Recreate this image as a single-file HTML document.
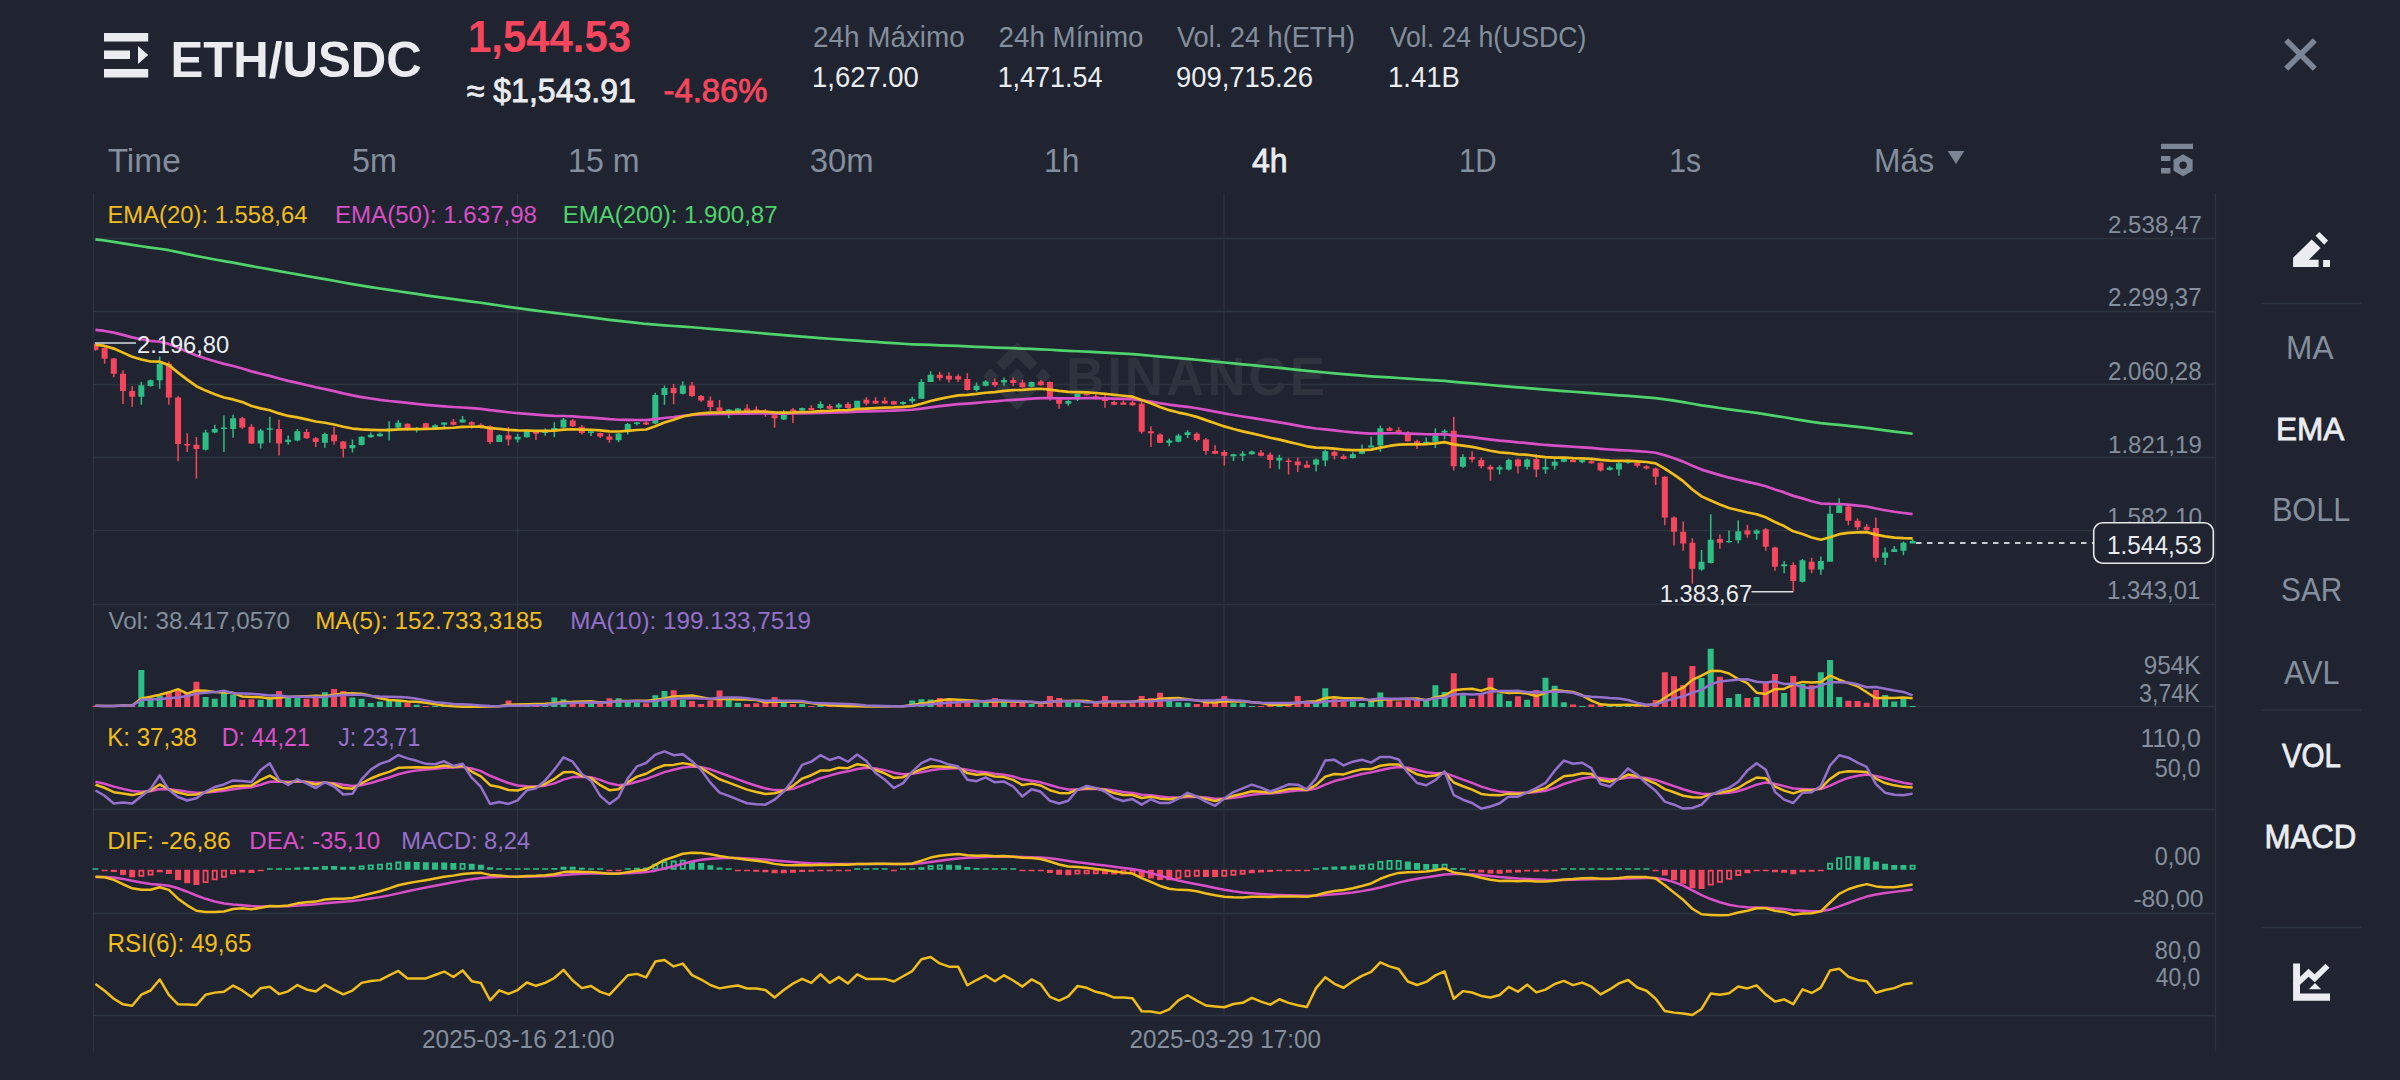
<!DOCTYPE html><html><head><meta charset="utf-8"><style>html,body{margin:0;padding:0;background:#1f2430;width:2400px;height:1080px;overflow:hidden}svg{display:block}text{font-family:"Liberation Sans",sans-serif}</style></head><body>
<svg width="2400" height="1080" viewBox="0 0 2400 1080">
<defs><clipPath id="cl"><rect x="94" y="193" width="2121" height="860"/></clipPath></defs><rect width="2400" height="1080" fill="#1f2430"/>
<g transform="translate(983 342) scale(0.537)" fill="#2e333e"><path d="M38.73,53.2l24.59-24.58,24.6,24.6,14.3-14.31L63.32,0,24.42,38.9Z M0,63.31,14.3,49l14.31,14.31L14.3,77.61Z M38.73,73.41,63.32,98l24.6-24.6,14.31,14.29L63.32,126.61,24.42,87.71Z M98,63.31l14.3-14.31,14.31,14.3-14.31,14.32Z M77.83,63.3L63.32,48.78,48.82,63.28,63.32,77.79Z"/></g>
<text x="1066" y="395" font-size="53" font-weight="bold" fill="#2e333e" textLength="259" lengthAdjust="spacing">BINANCE</text>
<path d="M93.5 238.5H2215.5M93.5 311.5H2215.5M93.5 384.5H2215.5M93.5 457.5H2215.5M93.5 530.5H2215.5M93.5 604.5H2215.5M93.5 706.5H2215.5M93.5 809.5H2215.5M93.5 913.5H2215.5M93.5 1015.5H2215.5M93.5 193V1051.5M2215.5 193V1051.5M517.5 193V1016M1224 193V1016" stroke="#2e3340" stroke-width="1.3" fill="none"/>
<g clip-path="url(#cl)"><path d="M92.45 343.63H98.45V350.09H92.45ZM94.70 343.63H96.20V350.81H94.70ZM101.63 347.94H107.63V358.70H101.63ZM103.88 347.22H105.38V363.73H103.88ZM110.81 358.42H116.81V373.77H110.81ZM113.06 357.99H114.56V377.36H113.06ZM119.98 373.77H125.98V390.99H119.98ZM122.23 370.18H123.73V403.91H122.23ZM129.16 390.99H135.16V396.73H129.16ZM131.41 385.97H132.91V406.78H131.41ZM165.87 363.73H171.87V397.45H165.87ZM168.12 361.57H169.62V404.63H168.12ZM175.05 397.45H181.05V444.09H175.05ZM177.30 396.02H178.80V461.31H177.30ZM184.23 444.09H190.23V445.53H184.23ZM186.48 433.33H187.98V451.99H186.48ZM193.40 444.81H199.40V449.12H193.40ZM195.65 436.92H197.15V478.54H195.65ZM239.29 418.26H245.29V427.59H239.29ZM241.54 416.83H243.04V429.02H241.54ZM248.47 426.87H254.47V443.38H248.47ZM250.72 424.00H252.22V444.09H250.72ZM276.00 429.02H282.00V443.38H276.00ZM278.25 419.70H279.75V455.57H278.25ZM303.54 431.89H309.54V438.35H303.54ZM305.79 429.02H307.29V439.07H305.79ZM312.71 438.35H318.71V441.94H312.71ZM314.96 436.92H316.46V446.96H314.96ZM331.07 434.76H337.07V441.22H331.07ZM333.32 426.87H334.82V444.81H333.32ZM340.25 441.46H346.25V448.75H340.25ZM342.50 440.94H344.00V457.60H342.50ZM404.49 423.75H410.49V427.92H404.49ZM406.74 423.23H408.24V431.04H406.74ZM422.84 423.23H428.84V427.92H422.84ZM425.09 422.71H426.59V428.96H425.09ZM450.38 421.67H456.38V424.79H450.38ZM452.63 419.06H454.13V425.31H452.63ZM468.73 422.19H474.73V424.79H468.73ZM470.98 421.15H472.48V428.44H470.98ZM477.91 424.79H483.91V425.99H477.91ZM480.16 423.23H481.66V428.44H480.16ZM487.09 426.35H493.09V441.98H487.09ZM489.34 425.31H490.84V444.06H489.34ZM505.44 435.21H511.44V439.38H505.44ZM507.69 426.88H509.19V445.62H507.69ZM532.98 432.08H538.98V433.65H532.98ZM535.23 431.56H536.73V439.90H535.23ZM569.69 420.62H575.69V426.35H569.69ZM571.94 419.06H573.44V426.88H571.94ZM578.86 426.67H584.86V432.92H578.86ZM581.11 425.10H582.61V434.48H581.11ZM597.22 432.92H603.22V436.56H597.22ZM599.47 432.40H600.97V438.12H599.47ZM606.40 436.56H612.40V439.69H606.40ZM608.65 433.44H610.15V442.81H608.65ZM643.11 422.50H649.11V424.58H643.11ZM645.36 421.46H646.86V425.10H645.36ZM670.64 388.12H676.64V393.33H670.64ZM672.89 383.96H674.39V404.27H672.89ZM689.00 385.52H695.00V395.94H689.00ZM691.25 381.88H692.75V396.98H691.25ZM698.17 395.94H704.17V400.62H698.17ZM700.42 394.90H701.92V401.67H700.42ZM707.35 400.62H713.35V406.88H707.35ZM709.60 396.46H711.10V411.04H709.60ZM716.53 407.40H722.53V411.04H716.53ZM718.78 400.10H720.28V411.56H718.78ZM744.06 408.44H750.06V411.04H744.06ZM746.31 404.27H747.81V411.56H746.31ZM753.24 409.48H759.24V411.04H753.24ZM755.49 406.35H756.99V411.56H755.49ZM762.42 410.52H768.42V412.08H762.42ZM764.67 408.96H766.17V416.77H764.67ZM771.59 415.21H777.59V418.33H771.59ZM773.84 414.17H775.34V427.71H773.84ZM789.95 409.48H795.95V411.04H789.95ZM792.20 407.92H793.70V423.02H792.20ZM808.30 407.92H814.30V410.00H808.30ZM810.55 405.31H812.05V410.52H810.55ZM826.66 406.04H832.66V408.65H826.66ZM828.91 403.96H830.41V409.17H828.91ZM845.02 403.96H851.02V408.12H845.02ZM847.27 401.88H848.77V408.65H847.27ZM863.37 399.79H869.37V403.44H863.37ZM865.62 397.19H867.12V405.52H865.62ZM872.55 400.83H878.55V403.44H872.55ZM874.80 397.19H876.30V403.96H874.80ZM881.73 400.83H887.73V403.44H881.73ZM883.98 397.19H885.48V403.96H883.98ZM890.90 401.35H896.90V404.48H890.90ZM893.15 400.83H894.65V405.00H893.15ZM936.79 374.79H942.79V377.92H936.79ZM939.04 371.67H940.54V380.52H939.04ZM945.97 375.83H951.97V379.48H945.97ZM948.22 372.19H949.72V382.60H948.22ZM955.15 376.35H961.15V379.48H955.15ZM957.40 374.27H958.90V382.08H957.40ZM964.32 378.96H970.32V389.90H964.32ZM966.57 373.23H968.07V390.42H966.57ZM991.86 382.08H997.86V385.21H991.86ZM994.11 378.44H995.61V387.29H994.11ZM1010.21 380.00H1016.21V383.12H1010.21ZM1012.46 377.40H1013.96V386.25H1012.46ZM1019.39 382.60H1025.39V387.29H1019.39ZM1021.64 379.48H1023.14V387.81H1021.64ZM1037.75 381.56H1043.75V385.21H1037.75ZM1040.00 380.00H1041.50V385.73H1040.00ZM1046.92 382.08H1052.92V397.71H1046.92ZM1049.17 381.56H1050.67V400.83H1049.17ZM1056.10 399.48H1062.10V403.65H1056.10ZM1058.35 396.88H1059.85V408.85H1058.35ZM1083.63 393.75H1089.63V395.31H1083.63ZM1085.88 392.71H1087.38V395.83H1085.88ZM1092.81 396.35H1098.81V398.96H1092.81ZM1095.06 394.27H1096.56V399.48H1095.06ZM1101.99 398.44H1107.99V401.04H1101.99ZM1104.24 395.31H1105.74V407.81H1104.24ZM1111.17 402.08H1117.17V404.69H1111.17ZM1113.42 400.52H1114.92V405.21H1113.42ZM1120.34 402.60H1126.34V404.69H1120.34ZM1122.59 400.52H1124.09V404.69H1122.59ZM1129.52 402.60H1135.52V405.21H1129.52ZM1131.77 400.52H1133.27V405.73H1131.77ZM1138.70 403.65H1144.70V431.77H1138.70ZM1140.95 402.08H1142.45V433.85H1140.95ZM1147.88 431.25H1153.88V433.33H1147.88ZM1150.13 426.56H1151.63V446.88H1150.13ZM1157.05 434.38H1163.05V442.71H1157.05ZM1159.30 433.33H1160.80V443.23H1159.30ZM1193.77 433.85H1199.77V440.10H1193.77ZM1196.02 432.29H1197.52V441.67H1196.02ZM1202.94 439.58H1208.94V451.04H1202.94ZM1205.19 438.02H1206.69V454.69H1205.19ZM1212.12 451.04H1218.12V453.65H1212.12ZM1214.37 445.31H1215.87V454.17H1214.37ZM1221.30 452.08H1227.30V455.73H1221.30ZM1223.55 450.00H1225.05V465.62H1223.55ZM1258.01 452.60H1264.01V455.73H1258.01ZM1260.26 450.00H1261.76V456.25H1260.26ZM1267.19 454.69H1273.19V459.90H1267.19ZM1269.44 452.60H1270.94V468.23H1269.44ZM1285.54 460.42H1291.54V461.98H1285.54ZM1287.79 458.33H1289.29V474.48H1287.79ZM1294.72 461.56H1300.72V465.21H1294.72ZM1296.97 457.40H1298.47V471.98H1296.97ZM1303.90 464.69H1309.90V467.81H1303.90ZM1306.15 460.52H1307.65V467.81H1306.15ZM1331.43 451.67H1337.43V455.83H1331.43ZM1333.68 450.62H1335.18V459.48H1333.68ZM1340.61 456.35H1346.61V458.96H1340.61ZM1342.86 454.27H1344.36V459.48H1342.86ZM1386.50 428.23H1392.50V430.83H1386.50ZM1388.75 426.67H1390.25V431.35H1388.75ZM1395.67 430.31H1401.67V432.40H1395.67ZM1397.92 427.19H1399.42V434.48H1397.92ZM1404.85 432.40H1410.85V441.25H1404.85ZM1407.10 431.35H1408.60V441.77H1407.10ZM1414.03 441.25H1420.03V444.38H1414.03ZM1416.28 439.69H1417.78V449.06H1416.28ZM1450.74 430.83H1456.74V466.25H1450.74ZM1452.99 416.77H1454.49V470.42H1452.99ZM1469.09 456.88H1475.09V459.48H1469.09ZM1471.34 451.15H1472.84V462.60H1471.34ZM1478.27 460.00H1484.27V466.25H1478.27ZM1480.52 457.40H1482.02V468.33H1480.52ZM1487.45 466.77H1493.45V469.38H1487.45ZM1489.70 464.69H1491.20V480.83H1489.70ZM1514.98 459.48H1520.98V466.25H1514.98ZM1517.23 458.44H1518.73V473.54H1517.23ZM1533.34 458.96H1539.34V469.38H1533.34ZM1535.59 454.27H1537.09V477.19H1535.59ZM1570.05 460.10H1576.05V462.19H1570.05ZM1572.30 456.98H1573.80V462.19H1572.30ZM1588.40 461.15H1594.40V463.23H1588.40ZM1590.65 460.10H1592.15V463.75H1590.65ZM1597.58 462.71H1603.58V470.52H1597.58ZM1599.83 462.19H1601.33V471.56H1599.83ZM1634.29 462.71H1640.29V465.83H1634.29ZM1636.54 461.67H1638.04V467.40H1636.54ZM1643.47 466.35H1649.47V468.44H1643.47ZM1645.72 465.31H1647.22V469.48H1645.72ZM1652.65 468.44H1658.65V476.77H1652.65ZM1654.90 467.40H1656.40V485.10H1654.90ZM1661.82 476.76H1667.82V517.59H1661.82ZM1664.07 476.11H1665.57V525.37H1664.07ZM1671.00 517.59H1677.00V531.85H1671.00ZM1673.25 516.30H1674.75V545.47H1673.25ZM1680.18 531.85H1686.18V543.52H1680.18ZM1682.43 521.48H1683.93V550.65H1682.43ZM1689.36 542.87H1695.36V568.80H1689.36ZM1691.61 538.34H1693.11V583.71H1691.61ZM1716.89 538.98H1722.89V542.87H1716.89ZM1719.14 534.45H1720.64V548.71H1719.14ZM1744.42 530.56H1750.42V534.45H1744.42ZM1746.67 524.72H1748.17V537.69H1746.67ZM1762.78 529.26H1768.78V546.76H1762.78ZM1765.03 527.96H1766.53V550.65H1765.03ZM1771.96 547.41H1777.96V566.86H1771.96ZM1774.21 546.76H1775.71V570.74H1774.21ZM1790.31 564.91H1796.31V581.11H1790.31ZM1792.56 562.32H1794.06V592.13H1792.56ZM1808.67 561.67H1814.67V569.45H1808.67ZM1810.92 557.78H1812.42V573.34H1810.92ZM1845.38 506.58H1851.38V520.83H1845.38ZM1847.63 505.93H1849.13V525.37H1847.63ZM1854.55 520.83H1860.55V527.32H1854.55ZM1856.80 518.24H1858.30V529.91H1856.80ZM1863.73 526.67H1869.73V529.91H1863.73ZM1865.98 524.08H1867.48V530.56H1865.98ZM1872.91 527.96H1878.91V557.78H1872.91ZM1875.16 517.59H1876.66V561.67H1875.16Z" fill="#f6465d"/>
<path d="M138.34 385.25H144.34V396.73H138.34ZM140.59 381.66H142.09V404.63H140.59ZM147.52 380.23H153.52V385.97H147.52ZM149.77 379.51H151.27V386.69H149.77ZM156.69 363.73H162.69V380.23H156.69ZM158.94 356.55H160.44V388.84H158.94ZM202.58 432.61H208.58V449.83H202.58ZM204.83 429.74H206.33V450.55H204.83ZM211.76 429.02H217.76V432.61H211.76ZM214.01 424.72H215.51V433.33H214.01ZM220.94 427.59H226.94V429.02H220.94ZM223.19 415.39H224.69V451.99H223.19ZM230.11 418.26H236.11V429.02H230.11ZM232.36 414.67H233.86V437.63H232.36ZM257.65 430.46H263.65V443.38H257.65ZM259.90 429.02H261.40V448.40H259.90ZM266.82 428.31H272.82V429.74H266.82ZM269.07 416.83H270.57V442.66H269.07ZM285.18 439.79H291.18V441.94H285.18ZM287.43 435.48H288.93V444.81H287.43ZM294.36 431.18H300.36V440.51H294.36ZM296.61 429.02H298.11V441.22H296.61ZM321.89 434.05H327.89V442.66H321.89ZM324.14 432.61H325.64V447.68H324.14ZM349.42 445.10H355.42V448.23H349.42ZM351.67 439.38H353.17V452.40H351.67ZM358.60 436.77H364.60V445.10H358.60ZM360.85 436.25H362.35V445.62H360.85ZM367.78 434.69H373.78V437.29H367.78ZM370.03 432.60H371.53V437.81H370.03ZM376.96 433.65H382.96V436.25H376.96ZM379.21 432.60H380.71V436.77H379.21ZM386.13 428.44H392.13V431.04H386.13ZM388.38 421.15H389.88V440.42H388.38ZM395.31 422.71H401.31V427.40H395.31ZM397.56 420.10H399.06V427.92H397.56ZM413.67 427.92H419.67V429.48H413.67ZM415.92 426.88H417.42V432.60H415.92ZM432.02 425.31H438.02V427.92H432.02ZM434.27 424.27H435.77V428.44H434.27ZM441.20 422.50H447.20V424.79H441.20ZM443.45 422.19H444.95V427.92H443.45ZM459.56 419.58H465.56V422.50H459.56ZM461.81 415.94H463.31V422.71H461.81ZM496.27 435.21H502.27V441.98H496.27ZM498.52 434.17H500.02V441.98H498.52ZM514.62 436.77H520.62V439.38H514.62ZM516.87 433.65H518.37V442.50H516.87ZM523.80 431.04H529.80V437.29H523.80ZM526.05 429.48H527.55V437.81H526.05ZM542.15 431.56H548.15V433.12H542.15ZM544.40 428.44H545.90V435.73H544.40ZM551.33 427.92H557.33V430.00H551.33ZM553.58 422.19H555.08V437.29H553.58ZM560.51 419.58H566.51V427.40H560.51ZM562.76 418.02H564.26V427.92H562.76ZM588.04 431.35H594.04V432.92H588.04ZM590.29 430.83H591.79V436.04H590.29ZM615.57 433.44H621.57V440.21H615.57ZM617.82 432.92H619.32V442.29H617.82ZM624.75 424.06H630.75V431.88H624.75ZM627.00 423.02H628.50V434.48H627.00ZM633.93 422.50H639.93V424.06H633.93ZM636.18 421.98H637.68V425.62H636.18ZM652.29 394.90H658.29V423.54H652.29ZM654.54 392.81H656.04V424.06H654.54ZM661.46 388.12H667.46V394.90H661.46ZM663.71 385.52H665.21V404.79H663.71ZM679.82 385.52H685.82V393.85H679.82ZM682.07 381.35H683.57V394.38H682.07ZM725.71 409.48H731.71V411.56H725.71ZM727.96 408.96H729.46V418.33H727.96ZM734.88 408.44H740.88V411.04H734.88ZM737.13 407.92H738.63V411.56H737.13ZM780.77 414.69H786.77V419.38H780.77ZM783.02 410.00H784.52V419.90H783.02ZM799.13 407.92H805.13V410.52H799.13ZM801.38 407.40H802.88V411.04H801.38ZM817.48 403.96H823.48V408.12H817.48ZM819.73 401.35H821.23V408.65H819.73ZM835.84 404.48H841.84V407.60H835.84ZM838.09 402.92H839.59V408.65H838.09ZM854.19 400.83H860.19V408.12H854.19ZM856.44 400.83H857.94V408.12H856.44ZM900.08 401.88H906.08V403.96H900.08ZM902.33 401.35H903.83V405.00H902.33ZM909.26 398.75H915.26V401.35H909.26ZM911.51 396.67H913.01V403.44H911.51ZM918.44 382.08H924.44V398.75H918.44ZM920.69 378.96H922.19V398.75H920.69ZM927.61 374.79H933.61V382.08H927.61ZM929.86 371.15H931.36V382.08H929.86ZM973.50 385.73H979.50V389.90H973.50ZM975.75 382.60H977.25V391.46H975.75ZM982.68 381.56H988.68V385.73H982.68ZM984.93 380.00H986.43V386.25H984.93ZM1001.03 380.00H1007.03V382.60H1001.03ZM1003.28 377.40H1004.78V385.73H1003.28ZM1028.57 382.08H1034.57V386.77H1028.57ZM1030.82 381.56H1032.32V387.29H1030.82ZM1065.28 401.04H1071.28V403.65H1065.28ZM1067.53 400.00H1069.03V405.73H1067.53ZM1074.46 393.75H1080.46V399.48H1074.46ZM1076.71 393.23H1078.21V401.04H1076.71ZM1166.23 440.62H1172.23V442.71H1166.23ZM1168.48 438.54H1169.98V446.35H1168.48ZM1175.41 435.42H1181.41V441.67H1175.41ZM1177.66 433.85H1179.16V442.19H1177.66ZM1184.59 432.29H1190.59V434.90H1184.59ZM1186.84 430.21H1188.34V438.02H1186.84ZM1230.48 454.17H1236.48V456.25H1230.48ZM1232.73 453.65H1234.23V460.94H1232.73ZM1239.65 453.65H1245.65V455.73H1239.65ZM1241.90 451.04H1243.40V460.94H1241.90ZM1248.83 451.56H1254.83V454.17H1248.83ZM1251.08 450.52H1252.58V454.69H1251.08ZM1276.36 457.81H1282.36V460.42H1276.36ZM1278.61 454.69H1280.11V469.27H1278.61ZM1313.07 459.48H1319.07V464.69H1313.07ZM1315.32 458.44H1316.82V471.46H1315.32ZM1322.25 451.15H1328.25V460.52H1322.25ZM1324.50 449.58H1326.00V466.25H1324.50ZM1349.78 454.27H1355.78V457.92H1349.78ZM1352.03 452.19H1353.53V458.44H1352.03ZM1358.96 449.58H1364.96V453.75H1358.96ZM1361.21 444.38H1362.71V454.27H1361.21ZM1368.14 445.42H1374.14V447.50H1368.14ZM1370.39 436.56H1371.89V447.50H1370.39ZM1377.32 428.23H1383.32V445.42H1377.32ZM1379.57 425.62H1381.07V451.67H1379.57ZM1423.21 441.77H1429.21V443.85H1423.21ZM1425.46 437.60H1426.96V444.38H1425.46ZM1432.38 435.52H1438.38V441.77H1432.38ZM1434.63 428.23H1436.13V448.02H1434.63ZM1441.56 430.83H1447.56V432.40H1441.56ZM1443.81 429.27H1445.31V439.17H1443.81ZM1459.92 456.88H1465.92V466.77H1459.92ZM1462.17 454.27H1463.67V467.81H1462.17ZM1496.63 467.29H1502.63V469.38H1496.63ZM1498.88 465.21H1500.38V474.58H1498.88ZM1505.80 460.00H1511.80V469.38H1505.80ZM1508.05 458.44H1509.55V470.42H1508.05ZM1524.16 459.48H1530.16V466.77H1524.16ZM1526.41 458.44H1527.91V469.38H1526.41ZM1542.51 466.88H1548.51V469.48H1542.51ZM1544.76 458.54H1546.26V473.65H1544.76ZM1551.69 461.67H1557.69V465.83H1551.69ZM1553.94 456.98H1555.44V469.48H1553.94ZM1560.87 458.54H1566.87V461.67H1560.87ZM1563.12 456.98H1564.62V462.19H1563.12ZM1579.23 460.10H1585.23V462.19H1579.23ZM1581.48 458.54H1582.98V463.23H1581.48ZM1606.76 467.40H1612.76V470.00H1606.76ZM1609.01 466.35H1610.51V470.52H1609.01ZM1615.94 463.23H1621.94V469.48H1615.94ZM1618.19 462.19H1619.69V475.73H1618.19ZM1625.11 460.62H1631.11V462.71H1625.11ZM1627.36 459.58H1628.86V463.75H1627.36ZM1698.53 561.67H1704.53V569.45H1698.53ZM1700.78 550.00H1702.28V570.74H1700.78ZM1707.71 539.63H1713.71V562.97H1707.71ZM1709.96 514.35H1711.46V563.61H1709.96ZM1726.07 540.93H1732.07V542.22H1726.07ZM1728.32 530.56H1729.82V542.87H1728.32ZM1735.25 531.21H1741.25V540.28H1735.25ZM1737.50 520.19H1739.00V543.52H1737.50ZM1753.60 530.56H1759.60V533.80H1753.60ZM1755.85 529.26H1757.35V539.63H1755.85ZM1781.13 564.26H1787.13V566.21H1781.13ZM1783.38 561.02H1784.88V573.34H1783.38ZM1799.49 560.37H1805.49V581.76H1799.49ZM1801.74 559.08H1803.24V582.41H1801.74ZM1817.84 561.02H1823.84V569.45H1817.84ZM1820.09 556.48H1821.59V574.63H1820.09ZM1827.02 513.70H1833.02V561.67H1827.02ZM1829.27 505.93H1830.77V561.67H1829.27ZM1836.20 505.28H1842.20V513.06H1836.20ZM1838.45 498.15H1839.95V513.06H1838.45ZM1882.09 552.60H1888.09V557.78H1882.09ZM1884.34 547.41H1885.84V564.91H1884.34ZM1891.26 549.35H1897.26V551.95H1891.26ZM1893.51 546.11H1895.01V551.95H1893.51ZM1900.44 542.87H1906.44V550.65H1900.44ZM1902.69 541.58H1904.19V555.19H1902.69ZM1909.62 540.93H1915.62V543.52H1909.62ZM1911.87 538.98H1913.37V543.52H1911.87Z" fill="#2ebd85"/></g>
<polyline points="95.45,239.31 104.63,240.50 113.81,241.83 122.98,243.31 132.16,244.84 141.34,246.24 150.52,247.57 159.69,248.72 168.87,250.20 178.05,252.13 187.23,254.06 196.40,256.00 205.58,257.76 214.76,259.46 223.94,261.13 233.11,262.70 242.29,264.34 251.47,266.12 260.65,267.75 269.82,269.35 279.00,271.08 288.18,272.76 297.36,274.34 306.54,275.97 315.71,277.62 324.89,279.18 334.07,280.79 343.25,282.46 352.42,284.08 361.60,285.60 370.78,287.08 379.96,288.54 389.13,289.93 398.31,291.25 407.49,292.61 416.67,293.96 425.84,295.29 435.02,296.59 444.20,297.84 453.38,299.10 462.56,300.30 471.73,301.54 480.91,302.78 490.09,304.16 499.27,305.47 508.44,306.80 517.62,308.09 526.80,309.32 535.98,310.55 545.15,311.76 554.33,312.91 563.51,313.97 572.69,315.09 581.86,316.26 591.04,317.41 600.22,318.60 609.40,319.80 618.57,320.93 627.75,321.96 636.93,322.96 646.11,323.97 655.29,324.67 664.46,325.31 673.64,325.98 682.82,326.58 692.00,327.27 701.17,328.00 710.35,328.78 719.53,329.60 728.71,330.39 737.88,331.17 747.06,331.96 756.24,332.75 765.42,333.54 774.59,334.38 783.77,335.18 792.95,335.94 802.13,336.65 811.30,337.38 820.48,338.05 829.66,338.75 838.84,339.40 848.02,340.09 857.19,340.69 866.37,341.32 875.55,341.93 884.73,342.55 893.90,343.16 903.08,343.75 912.26,344.29 921.44,344.67 930.61,344.97 939.79,345.30 948.97,345.64 958.15,345.97 967.32,346.41 976.50,346.80 985.68,347.15 994.86,347.53 1004.03,347.85 1013.21,348.20 1022.39,348.59 1031.57,348.92 1040.75,349.28 1049.92,349.77 1059.10,350.30 1068.28,350.81 1077.46,351.23 1086.63,351.67 1095.81,352.14 1104.99,352.63 1114.17,353.15 1123.34,353.66 1132.52,354.17 1141.70,354.95 1150.88,355.73 1160.05,356.59 1169.23,357.43 1178.41,358.20 1187.59,358.94 1196.77,359.75 1205.94,360.66 1215.12,361.58 1224.30,362.52 1233.48,363.43 1242.65,364.33 1251.83,365.20 1261.01,366.10 1270.19,367.03 1279.36,367.93 1288.54,368.87 1297.72,369.83 1306.90,370.80 1316.07,371.69 1325.25,372.48 1334.43,373.31 1343.61,374.16 1352.78,374.96 1361.96,375.70 1371.14,376.39 1380.32,376.91 1389.50,377.44 1398.67,377.99 1407.85,378.62 1417.03,379.27 1426.21,379.90 1435.38,380.45 1444.56,380.95 1453.74,381.80 1462.92,382.55 1472.09,383.31 1481.27,384.14 1490.45,384.99 1499.63,385.80 1508.80,386.54 1517.98,387.34 1527.16,388.05 1536.34,388.86 1545.51,389.64 1554.69,390.36 1563.87,391.03 1573.05,391.74 1582.23,392.42 1591.40,393.13 1600.58,393.90 1609.76,394.63 1618.94,395.31 1628.11,395.96 1637.29,396.66 1646.47,397.37 1655.65,398.16 1664.82,399.35 1674.00,400.67 1683.18,402.09 1692.36,403.75 1701.53,405.32 1710.71,406.66 1719.89,408.01 1729.07,409.33 1738.25,410.55 1747.42,411.78 1756.60,412.96 1765.78,414.29 1774.96,415.81 1784.13,417.29 1793.31,418.92 1802.49,420.32 1811.67,421.81 1820.84,423.19 1830.02,424.09 1839.20,424.90 1848.38,425.86 1857.55,426.87 1866.73,427.89 1875.91,429.18 1885.09,430.41 1894.26,431.60 1903.44,432.70 1912.62,433.78" fill="none" stroke="#4fd46b" stroke-width="2.7" stroke-linejoin="round"/>
<polyline points="95.45,329.83 104.63,330.96 113.81,332.64 122.98,334.93 132.16,337.35 141.34,339.23 150.52,340.84 159.69,341.73 168.87,343.92 178.05,347.85 187.23,351.68 196.40,355.50 205.58,358.52 214.76,361.29 223.94,363.89 233.11,366.02 242.29,368.44 251.47,371.37 260.65,373.69 269.82,375.83 279.00,378.48 288.18,380.89 297.36,382.86 306.54,385.03 315.71,387.27 324.89,389.10 334.07,391.14 343.25,393.40 352.42,395.43 361.60,397.05 370.78,398.53 379.96,399.91 389.13,401.02 398.31,401.87 407.49,402.90 416.67,403.88 425.84,404.82 435.02,405.62 444.20,406.29 453.38,407.01 462.56,407.50 471.73,408.18 480.91,408.87 490.09,410.17 499.27,411.15 508.44,412.26 517.62,413.22 526.80,413.92 535.98,414.69 545.15,415.36 554.33,415.85 563.51,415.99 572.69,416.40 581.86,417.05 591.04,417.61 600.22,418.35 609.40,419.19 618.57,419.75 627.75,419.92 636.93,420.02 646.11,420.20 655.29,419.21 664.46,417.99 673.64,417.02 682.82,415.78 692.00,415.01 701.17,414.44 710.35,414.15 719.53,414.02 728.71,413.85 737.88,413.63 747.06,413.53 756.24,413.43 765.42,413.38 774.59,413.58 783.77,413.62 792.95,413.52 802.13,413.30 811.30,413.17 820.48,412.81 829.66,412.64 838.84,412.32 848.02,412.16 857.19,411.72 866.37,411.39 875.55,411.08 884.73,410.78 893.90,410.53 903.08,410.19 912.26,409.74 921.44,408.66 930.61,407.33 939.79,406.18 948.97,405.13 958.15,404.12 967.32,403.57 976.50,402.87 985.68,402.03 994.86,401.37 1004.03,400.53 1013.21,399.85 1022.39,399.36 1031.57,398.68 1040.75,398.15 1049.92,398.14 1059.10,398.35 1068.28,398.46 1077.46,398.27 1086.63,398.16 1095.81,398.19 1104.99,398.30 1114.17,398.55 1123.34,398.79 1132.52,399.04 1141.70,400.33 1150.88,401.62 1160.05,403.23 1169.23,404.70 1178.41,405.90 1187.59,406.94 1196.77,408.24 1205.94,409.92 1215.12,411.63 1224.30,413.36 1233.48,414.96 1242.65,416.48 1251.83,417.85 1261.01,419.34 1270.19,420.93 1279.36,422.38 1288.54,423.93 1297.72,425.55 1306.90,427.21 1316.07,428.47 1325.25,429.36 1334.43,430.40 1343.61,431.52 1352.78,432.41 1361.96,433.08 1371.14,433.57 1380.32,433.36 1389.50,433.26 1398.67,433.23 1407.85,433.54 1417.03,433.97 1426.21,434.27 1435.38,434.32 1444.56,434.18 1453.74,435.44 1462.92,436.28 1472.09,437.19 1481.27,438.33 1490.45,439.55 1499.63,440.64 1508.80,441.40 1517.98,442.37 1527.16,443.04 1536.34,444.07 1545.51,444.97 1554.69,445.62 1563.87,446.13 1573.05,446.76 1582.23,447.28 1591.40,447.91 1600.58,448.79 1609.76,449.52 1618.94,450.06 1628.11,450.48 1637.29,451.08 1646.47,451.76 1655.65,452.74 1664.82,455.28 1674.00,458.29 1683.18,461.63 1692.36,465.83 1701.53,469.59 1710.71,472.34 1719.89,475.10 1729.07,477.68 1738.25,479.78 1747.42,481.93 1756.60,483.83 1765.78,486.30 1774.96,489.46 1784.13,492.39 1793.31,495.87 1802.49,498.40 1811.67,501.19 1820.84,503.53 1830.02,503.93 1839.20,503.99 1848.38,504.65 1857.55,505.54 1866.73,506.49 1875.91,508.50 1885.09,510.23 1894.26,511.77 1903.44,512.99 1912.62,514.08" fill="none" stroke="#d94fc8" stroke-width="2.7" stroke-linejoin="round"/>
<polyline points="95.45,344.58 104.63,345.93 113.81,348.58 122.98,352.62 132.16,356.82 141.34,359.53 150.52,361.50 159.69,361.71 168.87,365.11 178.05,372.64 187.23,379.58 196.40,386.20 205.58,390.62 214.76,394.28 223.94,397.45 233.11,399.43 242.29,402.11 251.47,406.04 260.65,408.37 269.82,410.27 279.00,413.42 288.18,415.93 297.36,417.38 306.54,419.38 315.71,421.53 324.89,422.72 334.07,424.48 343.25,426.79 352.42,428.54 361.60,429.32 370.78,429.83 379.96,430.20 389.13,430.03 398.31,429.33 407.49,429.20 416.67,429.08 425.84,428.96 435.02,428.62 444.20,428.03 453.38,427.73 462.56,426.95 471.73,426.74 480.91,426.66 490.09,428.12 499.27,428.79 508.44,429.80 517.62,430.46 526.80,430.52 535.98,430.82 545.15,430.89 554.33,430.60 563.51,429.56 572.69,429.25 581.86,429.60 591.04,429.77 600.22,430.41 609.40,431.30 618.57,431.50 627.75,430.79 636.93,430.00 646.11,429.49 655.29,426.19 664.46,422.57 673.64,419.78 682.82,416.52 692.00,414.56 701.17,413.23 710.35,412.63 719.53,412.48 728.71,412.19 737.88,411.83 747.06,411.76 756.24,411.69 765.42,411.73 774.59,412.36 783.77,412.58 792.95,412.43 802.13,412.00 811.30,411.81 820.48,411.06 829.66,410.83 838.84,410.23 848.02,410.03 857.19,409.15 866.37,408.61 875.55,408.12 884.73,407.67 893.90,407.37 903.08,406.84 912.26,406.07 921.44,403.79 930.61,401.03 939.79,398.83 948.97,396.98 958.15,395.32 967.32,394.80 976.50,393.94 985.68,392.76 994.86,392.04 1004.03,390.89 1013.21,390.15 1022.39,389.88 1031.57,389.14 1040.75,388.76 1049.92,389.61 1059.10,390.95 1068.28,391.91 1077.46,392.09 1086.63,392.39 1095.81,393.02 1104.99,393.78 1114.17,394.82 1123.34,395.76 1132.52,396.66 1141.70,400.01 1150.88,403.18 1160.05,406.94 1169.23,410.15 1178.41,412.56 1187.59,414.44 1196.77,416.88 1205.94,420.14 1215.12,423.33 1224.30,426.41 1233.48,429.06 1242.65,431.40 1251.83,433.32 1261.01,435.45 1270.19,437.78 1279.36,439.69 1288.54,441.81 1297.72,444.04 1306.90,446.30 1316.07,447.56 1325.25,447.90 1334.43,448.66 1343.61,449.64 1352.78,450.08 1361.96,450.03 1371.14,449.59 1380.32,447.56 1389.50,445.96 1398.67,444.67 1407.85,444.35 1417.03,444.35 1426.21,444.10 1435.38,443.29 1444.56,442.10 1453.74,444.40 1462.92,445.59 1472.09,446.91 1481.27,448.75 1490.45,450.72 1499.63,452.30 1508.80,453.03 1517.98,454.29 1527.16,454.78 1536.34,456.17 1545.51,457.19 1554.69,457.62 1563.87,457.71 1573.05,458.13 1582.23,458.32 1591.40,458.79 1600.58,459.91 1609.76,460.62 1618.94,460.87 1628.11,460.84 1637.29,461.32 1646.47,462.00 1655.65,463.40 1664.82,468.57 1674.00,474.59 1683.18,481.16 1692.36,489.50 1701.53,496.38 1710.71,500.50 1719.89,504.53 1729.07,508.00 1738.25,510.21 1747.42,512.52 1756.60,514.24 1765.78,517.33 1774.96,522.05 1784.13,526.07 1793.31,531.31 1802.49,534.08 1811.67,537.45 1820.84,539.69 1830.02,537.22 1839.20,534.18 1848.38,532.91 1857.55,532.37 1866.73,532.14 1875.91,534.58 1885.09,536.30 1894.26,537.54 1903.44,538.05 1912.62,538.32" fill="none" stroke="#f0bd1c" stroke-width="2.7" stroke-linejoin="round"/>
<path d="M92.45 705.63H98.45V707.00H92.45ZM101.63 706.00H107.63V707.00H101.63ZM110.81 706.00H116.81V707.00H110.81ZM119.98 704.40H125.98V707.00H119.98ZM129.16 705.63H135.16V707.00H129.16ZM165.87 692.50H171.87V707.00H165.87ZM175.05 689.88H181.05V707.00H175.05ZM184.23 692.50H190.23V707.00H184.23ZM193.40 681.65H199.40V707.00H193.40ZM239.29 699.85H245.29V707.00H239.29ZM248.47 699.15H254.47V707.00H248.47ZM276.00 691.10H282.00V707.00H276.00ZM303.54 698.63H309.54V707.00H303.54ZM312.71 696.88H318.71V707.00H312.71ZM331.07 689.00H337.07V707.00H331.07ZM340.25 691.10H346.25V707.00H340.25ZM404.49 702.65H410.49V707.00H404.49ZM422.84 706.00H428.84V707.00H422.84ZM450.38 706.00H456.38V707.00H450.38ZM468.73 706.00H474.73V707.00H468.73ZM477.91 706.00H483.91V707.00H477.91ZM487.09 705.63H493.09V707.00H487.09ZM505.44 700.38H511.44V707.00H505.44ZM532.98 704.40H538.98V707.00H532.98ZM569.69 703.88H575.69V707.00H569.69ZM578.86 702.13H584.86V707.00H578.86ZM597.22 703.35H603.22V707.00H597.22ZM606.40 698.28H612.40V707.00H606.40ZM643.11 703.35H649.11V707.00H643.11ZM670.64 690.23H676.64V707.00H670.64ZM689.00 700.90H695.00V707.00H689.00ZM698.17 703.88H704.17V707.00H698.17ZM707.35 700.38H713.35V707.00H707.35ZM716.53 690.40H722.53V707.00H716.53ZM744.06 703.88H750.06V707.00H744.06ZM753.24 703.35H759.24V707.00H753.24ZM762.42 702.13H768.42V707.00H762.42ZM771.59 696.88H777.59V707.00H771.59ZM789.95 703.88H795.95V707.00H789.95ZM808.30 706.00H814.30V707.00H808.30ZM826.66 706.00H832.66V707.00H826.66ZM845.02 706.00H851.02V707.00H845.02ZM863.37 706.00H869.37V707.00H863.37ZM872.55 706.00H878.55V707.00H872.55ZM881.73 706.00H887.73V707.00H881.73ZM890.90 706.00H896.90V707.00H890.90ZM936.79 698.10H942.79V707.00H936.79ZM945.97 698.63H951.97V707.00H945.97ZM955.15 703.35H961.15V707.00H955.15ZM964.32 701.60H970.32V707.00H964.32ZM991.86 698.10H997.86V707.00H991.86ZM1010.21 703.35H1016.21V707.00H1010.21ZM1019.39 702.65H1025.39V707.00H1019.39ZM1037.75 704.40H1043.75V707.00H1037.75ZM1046.92 696.00H1052.92V707.00H1046.92ZM1056.10 698.10H1062.10V707.00H1056.10ZM1083.63 706.00H1089.63V707.00H1083.63ZM1092.81 703.35H1098.81V707.00H1092.81ZM1101.99 696.00H1107.99V707.00H1101.99ZM1111.17 702.13H1117.17V707.00H1111.17ZM1120.34 703.88H1126.34V707.00H1120.34ZM1129.52 703.35H1135.52V707.00H1129.52ZM1138.70 696.00H1144.70V707.00H1138.70ZM1147.88 698.10H1153.88V707.00H1147.88ZM1157.05 692.85H1163.05V707.00H1157.05ZM1193.77 703.88H1199.77V707.00H1193.77ZM1202.94 701.60H1208.94V707.00H1202.94ZM1212.12 702.13H1218.12V707.00H1212.12ZM1221.30 696.00H1227.30V707.00H1221.30ZM1258.01 706.00H1264.01V707.00H1258.01ZM1267.19 704.40H1273.19V707.00H1267.19ZM1285.54 702.65H1291.54V707.00H1285.54ZM1294.72 696.00H1300.72V707.00H1294.72ZM1303.90 701.60H1309.90V707.00H1303.90ZM1331.43 698.63H1337.43V707.00H1331.43ZM1340.61 701.25H1346.61V707.00H1340.61ZM1386.50 699.15H1392.50V707.00H1386.50ZM1395.67 701.60H1401.67V707.00H1395.67ZM1404.85 699.85H1410.85V707.00H1404.85ZM1414.03 699.85H1420.03V707.00H1414.03ZM1450.74 673.25H1456.74V707.00H1450.74ZM1469.09 698.63H1475.09V707.00H1469.09ZM1478.27 694.25H1484.27V707.00H1478.27ZM1487.45 677.63H1493.45V707.00H1487.45ZM1514.98 696.35H1520.98V707.00H1514.98ZM1533.34 689.88H1539.34V707.00H1533.34ZM1570.05 704.40H1576.05V707.00H1570.05ZM1588.40 704.40H1594.40V707.00H1588.40ZM1597.58 704.40H1603.58V707.00H1597.58ZM1634.29 706.00H1640.29V707.00H1634.29ZM1643.47 705.07H1649.47V707.00H1643.47ZM1652.65 700.00H1658.65V707.00H1652.65ZM1661.82 672.27H1667.82V707.00H1661.82ZM1671.00 676.27H1677.00V707.00H1671.00ZM1680.18 685.07H1686.18V707.00H1680.18ZM1689.36 666.00H1695.36V707.00H1689.36ZM1716.89 676.67H1722.89V707.00H1716.89ZM1744.42 698.00H1750.42V707.00H1744.42ZM1762.78 682.67H1768.78V707.00H1762.78ZM1771.96 674.00H1777.96V707.00H1771.96ZM1790.31 676.00H1796.31V707.00H1790.31ZM1808.67 685.33H1814.67V707.00H1808.67ZM1845.38 700.67H1851.38V707.00H1845.38ZM1854.55 701.07H1860.55V707.00H1854.55ZM1863.73 702.67H1869.73V707.00H1863.73ZM1872.91 690.00H1878.91V707.00H1872.91Z" fill="#f6465d"/>
<path d="M138.34 670.10H144.34V707.00H138.34ZM147.52 697.75H153.52V707.00H147.52ZM156.69 695.65H162.69V707.00H156.69ZM202.58 696.88H208.58V707.00H202.58ZM211.76 698.63H217.76V707.00H211.76ZM220.94 692.50H226.94V707.00H220.94ZM230.11 694.60H236.11V707.00H230.11ZM257.65 699.85H263.65V707.00H257.65ZM266.82 698.63H272.82V707.00H266.82ZM285.18 695.65H291.18V707.00H285.18ZM294.36 696.88H300.36V707.00H294.36ZM321.89 692.15H327.89V707.00H321.89ZM349.42 697.40H355.42V707.00H349.42ZM358.60 698.63H364.60V707.00H358.60ZM367.78 703.00H373.78V707.00H367.78ZM376.96 701.60H382.96V707.00H376.96ZM386.13 699.50H392.13V707.00H386.13ZM395.31 700.38H401.31V707.00H395.31ZM413.67 704.75H419.67V707.00H413.67ZM432.02 706.00H438.02V707.00H432.02ZM441.20 706.00H447.20V707.00H441.20ZM459.56 706.00H465.56V707.00H459.56ZM496.27 705.63H502.27V707.00H496.27ZM514.62 705.10H520.62V707.00H514.62ZM523.80 704.75H529.80V707.00H523.80ZM542.15 704.40H548.15V707.00H542.15ZM551.33 697.40H557.33V707.00H551.33ZM560.51 699.15H566.51V707.00H560.51ZM588.04 703.35H594.04V707.00H588.04ZM615.57 698.28H621.57V707.00H615.57ZM624.75 701.25H630.75V707.00H624.75ZM633.93 702.13H639.93V707.00H633.93ZM652.29 695.13H658.29V707.00H652.29ZM661.46 691.10H667.46V707.00H661.46ZM679.82 699.85H685.82V707.00H679.82ZM725.71 699.85H731.71V707.00H725.71ZM734.88 702.65H740.88V707.00H734.88ZM780.77 703.00H786.77V707.00H780.77ZM799.13 703.88H805.13V707.00H799.13ZM817.48 704.75H823.48V707.00H817.48ZM835.84 706.00H841.84V707.00H835.84ZM854.19 706.00H860.19V707.00H854.19ZM900.08 705.63H906.08V707.00H900.08ZM909.26 700.38H915.26V707.00H909.26ZM918.44 699.15H924.44V707.00H918.44ZM927.61 699.50H933.61V707.00H927.61ZM973.50 702.13H979.50V707.00H973.50ZM982.68 702.65H988.68V707.00H982.68ZM1001.03 702.13H1007.03V707.00H1001.03ZM1028.57 703.88H1034.57V707.00H1028.57ZM1065.28 702.13H1071.28V707.00H1065.28ZM1074.46 702.65H1080.46V707.00H1074.46ZM1166.23 700.38H1172.23V707.00H1166.23ZM1175.41 702.13H1181.41V707.00H1175.41ZM1184.59 702.65H1190.59V707.00H1184.59ZM1230.48 703.35H1236.48V707.00H1230.48ZM1239.65 703.35H1245.65V707.00H1239.65ZM1248.83 706.00H1254.83V707.00H1248.83ZM1276.36 703.88H1282.36V707.00H1276.36ZM1313.07 702.13H1319.07V707.00H1313.07ZM1322.25 688.13H1328.25V707.00H1322.25ZM1349.78 701.25H1355.78V707.00H1349.78ZM1358.96 703.00H1364.96V707.00H1358.96ZM1368.14 700.38H1374.14V707.00H1368.14ZM1377.32 692.50H1383.32V707.00H1377.32ZM1423.21 700.90H1429.21V707.00H1423.21ZM1432.38 685.15H1438.38V707.00H1432.38ZM1441.56 691.98H1447.56V707.00H1441.56ZM1459.92 695.13H1465.92V707.00H1459.92ZM1496.63 693.38H1502.63V707.00H1496.63ZM1505.80 700.90H1511.80V707.00H1505.80ZM1524.16 699.85H1530.16V707.00H1524.16ZM1542.51 677.63H1548.51V707.00H1542.51ZM1551.69 685.85H1557.69V707.00H1551.69ZM1560.87 702.13H1566.87V707.00H1560.87ZM1579.23 706.00H1585.23V707.00H1579.23ZM1606.76 705.10H1612.76V707.00H1606.76ZM1615.94 705.10H1621.94V707.00H1615.94ZM1625.11 705.10H1631.11V707.00H1625.11ZM1698.53 678.00H1704.53V707.00H1698.53ZM1707.71 648.67H1713.71V707.00H1707.71ZM1726.07 698.00H1732.07V707.00H1726.07ZM1735.25 694.00H1741.25V707.00H1735.25ZM1753.60 697.07H1759.60V707.00H1753.60ZM1781.13 692.93H1787.13V707.00H1781.13ZM1799.49 684.00H1805.49V707.00H1799.49ZM1817.84 672.27H1823.84V707.00H1817.84ZM1827.02 660.00H1833.02V707.00H1827.02ZM1836.20 697.07H1842.20V707.00H1836.20ZM1882.09 694.93H1888.09V707.00H1882.09ZM1891.26 701.60H1897.26V707.00H1891.26ZM1900.44 698.67H1906.44V707.00H1900.44ZM1909.62 706.00H1915.62V707.00H1909.62Z" fill="#2ebd85"/>
<polyline points="95.45,705.63 104.63,705.89 113.81,705.98 122.98,705.58 132.16,705.59 141.34,698.49 150.52,696.81 159.69,694.71 168.87,692.33 178.05,689.18 187.23,693.66 196.40,690.44 205.58,690.68 214.76,691.91 223.94,692.43 233.11,692.85 242.29,696.49 251.47,696.95 260.65,697.19 269.82,698.42 279.00,697.72 288.18,696.88 297.36,696.42 306.54,696.18 315.71,695.83 324.89,696.04 334.07,694.71 343.25,693.55 352.42,693.31 361.60,693.66 370.78,695.83 379.96,698.35 389.13,700.03 398.31,700.62 407.49,701.43 416.67,701.78 425.84,702.76 435.02,704.23 444.20,705.52 453.38,706.36 462.56,706.78 471.73,706.78 480.91,706.64 490.09,706.40 499.27,706.15 508.44,704.86 517.62,704.58 526.80,704.30 535.98,704.05 545.15,703.81 554.33,703.21 563.51,702.02 572.69,701.85 581.86,701.39 591.04,701.18 600.22,702.37 609.40,702.20 618.57,701.08 627.75,700.90 636.93,700.66 646.11,700.66 655.29,700.03 664.46,698.59 673.64,696.39 682.82,695.93 692.00,695.44 701.17,697.19 710.35,699.05 719.53,699.08 728.71,699.08 737.88,699.43 747.06,699.43 756.24,700.03 765.42,702.37 774.59,701.78 783.77,701.85 792.95,701.85 802.13,701.95 811.30,702.90 820.48,704.47 829.66,705.17 838.84,705.70 848.02,706.22 857.19,706.15 866.37,706.50 875.55,706.50 884.73,706.43 893.90,706.36 903.08,706.19 912.26,704.96 921.44,703.49 930.61,702.16 939.79,700.55 948.97,699.15 958.15,699.75 967.32,700.24 976.50,700.76 985.68,701.67 994.86,701.57 1004.03,701.32 1013.21,701.67 1022.39,701.78 1031.57,702.02 1040.75,703.28 1049.92,702.06 1059.10,701.01 1068.28,700.90 1077.46,700.66 1086.63,701.01 1095.81,702.48 1104.99,702.06 1114.17,702.06 1123.34,702.30 1132.52,701.74 1141.70,700.27 1150.88,700.69 1160.05,698.84 1169.23,698.14 1178.41,697.89 1187.59,699.22 1196.77,700.38 1205.94,702.13 1215.12,702.48 1224.30,701.25 1233.48,701.39 1242.65,701.29 1251.83,702.20 1261.01,703.00 1270.19,704.68 1279.36,704.79 1288.54,704.65 1297.72,702.62 1306.90,701.71 1316.07,701.25 1325.25,698.10 1334.43,697.30 1343.61,698.35 1352.78,698.28 1361.96,698.45 1371.14,700.90 1380.32,699.68 1389.50,699.26 1398.67,699.33 1407.85,698.70 1417.03,698.59 1426.21,700.27 1435.38,697.47 1444.56,695.55 1453.74,690.23 1462.92,689.28 1472.09,688.83 1481.27,690.65 1490.45,687.78 1499.63,691.80 1508.80,692.96 1517.98,692.50 1527.16,693.62 1536.34,696.07 1545.51,692.92 1554.69,689.91 1563.87,691.07 1573.05,691.98 1582.23,695.30 1591.40,700.66 1600.58,704.37 1609.76,704.96 1618.94,705.10 1628.11,704.82 1637.29,705.17 1646.47,705.31 1655.65,704.29 1664.82,697.72 1674.00,691.95 1683.18,687.73 1692.36,679.92 1701.53,675.52 1710.71,670.80 1719.89,670.88 1729.07,673.47 1738.25,679.07 1747.42,683.07 1756.60,692.75 1765.78,693.95 1774.96,689.15 1784.13,688.93 1793.31,684.53 1802.49,681.92 1811.67,682.45 1820.84,682.11 1830.02,675.52 1839.20,679.73 1848.38,683.07 1857.55,686.21 1866.73,692.29 1875.91,698.29 1885.09,697.87 1894.26,698.05 1903.44,697.57 1912.62,698.37" fill="none" stroke="#f0bd1c" stroke-width="2.5" stroke-linejoin="round"/>
<polyline points="95.45,705.63 104.63,705.89 113.81,705.98 122.98,705.58 132.16,705.59 141.34,699.68 150.52,699.40 159.69,698.93 168.87,698.22 178.05,697.39 187.23,696.07 196.40,693.62 205.58,692.70 214.76,692.12 223.94,690.81 233.11,693.26 242.29,693.47 251.47,693.82 260.65,694.55 269.82,695.43 279.00,695.29 288.18,696.69 297.36,696.69 306.54,696.69 315.71,697.12 324.89,696.88 334.07,695.79 343.25,694.99 352.42,694.74 361.60,694.74 370.78,695.93 379.96,696.53 389.13,696.79 398.31,696.97 407.49,697.54 416.67,698.80 425.84,700.55 435.02,702.13 444.20,703.07 453.38,703.90 462.56,704.28 471.73,704.77 480.91,705.44 490.09,705.96 499.27,706.26 508.44,705.82 517.62,705.68 526.80,705.47 535.98,705.23 545.15,704.98 554.33,704.04 563.51,703.30 572.69,703.07 581.86,702.72 591.04,702.50 600.22,702.79 609.40,702.11 618.57,701.46 627.75,701.15 636.93,700.92 646.11,701.52 655.29,701.11 664.46,699.84 673.64,698.65 682.82,698.30 692.00,698.05 701.17,698.61 710.35,698.82 719.53,697.74 728.71,697.51 737.88,697.44 747.06,698.31 756.24,699.54 765.42,700.73 774.59,700.43 783.77,700.64 792.95,700.64 802.13,700.99 811.30,702.64 820.48,703.13 829.66,703.51 838.84,703.77 848.02,704.09 857.19,704.53 866.37,705.49 875.55,705.84 884.73,706.07 893.90,706.29 903.08,706.17 912.26,705.73 921.44,705.00 930.61,704.30 939.79,703.46 948.97,702.67 958.15,702.36 967.32,701.87 976.50,701.46 985.68,701.11 994.86,700.36 1004.03,700.54 1013.21,700.96 1022.39,701.27 1031.57,701.85 1040.75,702.43 1049.92,701.69 1059.10,701.34 1068.28,701.34 1077.46,701.34 1086.63,702.15 1095.81,702.27 1104.99,701.53 1114.17,701.48 1123.34,701.48 1132.52,701.38 1141.70,701.38 1150.88,701.38 1160.05,700.45 1169.23,700.22 1178.41,699.82 1187.59,699.75 1196.77,700.54 1205.94,700.48 1215.12,700.31 1224.30,699.57 1233.48,700.31 1242.65,700.83 1251.83,702.16 1261.01,702.74 1270.19,702.97 1279.36,703.09 1288.54,702.97 1297.72,702.41 1306.90,702.36 1316.07,702.97 1325.25,701.45 1334.43,700.97 1343.61,700.48 1352.78,699.99 1361.96,699.85 1371.14,699.50 1380.32,698.49 1389.50,698.80 1398.67,698.80 1407.85,698.58 1417.03,699.75 1426.21,699.98 1435.38,698.37 1444.56,697.44 1453.74,694.46 1462.92,693.94 1472.09,694.55 1481.27,694.06 1490.45,691.66 1499.63,691.02 1508.80,691.12 1517.98,690.67 1527.16,692.14 1536.34,691.93 1545.51,692.36 1554.69,691.44 1563.87,691.79 1573.05,692.80 1582.23,695.69 1591.40,696.79 1600.58,697.14 1609.76,698.02 1618.94,698.54 1628.11,700.06 1637.29,702.92 1646.47,704.84 1655.65,704.62 1664.82,701.41 1674.00,698.39 1683.18,696.45 1692.36,692.61 1701.53,689.90 1710.71,684.26 1719.89,681.42 1729.07,680.60 1738.25,679.49 1747.42,679.29 1756.60,681.77 1765.78,682.41 1774.96,681.31 1784.13,684.00 1793.31,683.80 1802.49,687.33 1811.67,688.20 1820.84,685.63 1830.02,682.23 1839.20,682.13 1848.38,682.49 1857.55,684.33 1866.73,687.20 1875.91,686.91 1885.09,688.80 1894.26,690.56 1903.44,691.89 1912.62,695.33" fill="none" stroke="#9570cc" stroke-width="2.5" stroke-linejoin="round"/>
<polyline points="95.45,781.80 104.63,783.79 113.81,786.61 122.98,788.87 132.16,790.95 141.34,791.69 150.52,791.32 159.69,789.03 168.87,789.13 178.05,790.26 187.23,791.72 196.40,792.67 205.58,792.52 214.76,791.74 223.94,790.70 233.11,789.23 242.29,788.06 251.47,787.21 260.65,784.77 269.82,781.70 279.00,781.43 288.18,781.93 297.36,781.55 306.54,781.80 315.71,782.69 324.89,782.63 334.07,783.18 343.25,784.81 352.42,786.09 361.60,785.15 370.78,782.93 379.96,780.21 389.13,777.45 398.31,774.25 407.49,771.98 416.67,770.39 425.84,769.46 435.02,768.71 444.20,767.65 453.38,767.40 462.56,766.88 471.73,768.43 480.91,771.08 490.09,775.78 499.27,779.52 508.44,783.01 517.62,785.50 526.80,786.19 535.98,786.50 545.15,785.65 554.33,783.37 563.51,779.65 572.69,777.08 581.86,776.63 591.04,777.21 600.22,779.87 609.40,783.30 618.57,785.29 627.75,784.31 636.93,781.76 646.11,779.08 655.29,775.58 664.46,772.13 673.64,769.71 682.82,767.52 692.00,766.62 701.17,767.09 710.35,769.31 719.53,772.64 728.71,775.97 737.88,779.34 747.06,782.76 756.24,785.81 765.42,788.51 774.59,790.11 783.77,790.32 792.95,788.83 802.13,785.41 811.30,782.02 820.48,778.19 829.66,775.59 838.84,772.95 848.02,771.34 857.19,768.95 866.37,767.82 875.55,768.55 884.73,770.12 893.90,772.67 903.08,774.17 912.26,773.80 921.44,772.28 930.61,770.36 939.79,769.04 948.97,768.40 958.15,768.14 967.32,769.79 976.50,771.42 985.68,772.26 994.86,773.69 1004.03,774.82 1013.21,776.49 1022.39,779.36 1031.57,780.77 1040.75,782.35 1049.92,784.98 1059.10,787.62 1068.28,789.50 1077.46,789.54 1086.63,789.04 1095.81,788.87 1104.99,789.25 1114.17,790.52 1123.34,792.01 1132.52,793.02 1141.70,794.68 1150.88,795.34 1160.05,796.44 1169.23,797.38 1178.41,797.57 1187.59,796.89 1196.77,796.84 1205.94,797.51 1215.12,798.70 1224.30,798.68 1233.48,797.73 1242.65,796.39 1251.83,794.70 1261.01,793.70 1270.19,793.38 1279.36,792.65 1288.54,791.47 1297.72,790.49 1306.90,790.32 1316.07,788.61 1325.25,784.61 1334.43,781.07 1343.61,778.84 1352.78,776.39 1361.96,774.02 1371.14,772.39 1380.32,770.18 1389.50,768.28 1398.67,767.02 1407.85,767.84 1417.03,770.01 1426.21,772.19 1435.38,773.31 1444.56,773.03 1453.74,776.18 1462.92,779.55 1472.09,782.90 1481.27,786.57 1490.45,789.42 1499.63,791.40 1508.80,792.14 1517.98,792.80 1527.16,792.75 1536.34,792.09 1545.51,790.78 1554.69,787.91 1563.87,784.01 1573.05,781.11 1582.23,778.48 1591.40,777.02 1600.58,778.02 1609.76,779.24 1618.94,779.09 1628.11,777.56 1637.29,777.15 1646.47,778.06 1655.65,779.86 1664.82,782.97 1674.00,786.08 1683.18,789.29 1692.36,791.96 1701.53,793.77 1710.71,793.97 1719.89,793.52 1729.07,792.71 1738.25,791.15 1747.42,788.20 1756.60,784.64 1765.78,782.50 1774.96,783.84 1784.13,786.09 1793.31,788.50 1802.49,789.11 1811.67,789.54 1820.84,789.04 1830.02,785.68 1839.20,781.33 1848.38,777.95 1857.55,775.77 1866.73,774.51 1875.91,775.88 1885.09,778.27 1894.26,780.63 1903.44,782.71 1912.62,784.26" fill="none" stroke="#d94fc8" stroke-width="2.5" stroke-linejoin="round"/>
<polyline points="95.45,784.70 104.63,787.78 113.81,792.23 122.98,793.40 132.16,795.10 141.34,793.18 150.52,790.57 159.69,784.45 168.87,789.32 178.05,792.52 187.23,794.65 196.40,794.56 205.58,792.23 214.76,790.18 223.94,788.62 233.11,786.29 242.29,785.73 251.47,785.51 260.65,779.88 269.82,775.57 279.00,780.88 288.18,782.95 297.36,780.80 306.54,782.30 315.71,784.47 324.89,782.50 334.07,784.29 343.25,788.05 352.42,788.67 361.60,783.25 370.78,778.50 379.96,774.76 389.13,771.93 398.31,767.85 407.49,767.46 416.67,767.20 425.84,767.59 435.02,767.21 444.20,765.52 453.38,766.91 462.56,765.84 471.73,771.53 480.91,776.38 490.09,785.18 499.27,787.01 508.44,789.97 517.62,790.48 526.80,787.59 535.98,787.12 545.15,783.95 554.33,778.80 563.51,772.22 572.69,771.94 581.86,775.74 591.04,778.36 600.22,785.18 609.40,790.18 618.57,789.28 627.75,782.34 636.93,776.65 646.11,773.73 655.29,768.59 664.46,765.22 673.64,764.88 682.82,763.13 692.00,764.83 701.17,768.04 710.35,773.76 719.53,779.28 728.71,782.63 737.88,786.10 747.06,789.59 756.24,791.92 765.42,793.91 774.59,793.31 783.77,790.72 792.95,785.86 802.13,778.58 811.30,775.22 820.48,770.54 829.66,770.40 838.84,767.65 848.02,768.14 857.19,764.16 866.37,765.56 875.55,770.01 884.73,773.26 893.90,777.78 903.08,777.15 912.26,773.08 921.44,769.22 930.61,766.53 939.79,766.39 948.97,767.12 958.15,767.61 967.32,773.09 976.50,774.68 985.68,773.93 994.86,776.56 1004.03,777.08 1013.21,779.83 1022.39,785.09 1031.57,783.61 1040.75,785.49 1049.92,790.26 1059.10,792.90 1068.28,793.27 1077.46,789.63 1086.63,788.03 1095.81,788.54 1104.99,789.99 1114.17,793.07 1123.34,794.99 1132.52,795.04 1141.70,798.01 1150.88,796.65 1160.05,798.64 1169.23,799.27 1178.41,797.95 1187.59,795.53 1196.77,796.74 1205.94,798.86 1215.12,801.08 1224.30,798.64 1233.48,795.83 1242.65,793.72 1251.83,791.32 1261.01,791.70 1270.19,792.74 1279.36,791.18 1288.54,789.10 1297.72,788.55 1306.90,789.97 1316.07,785.20 1325.25,776.59 1334.43,774.00 1343.61,774.38 1352.78,771.48 1361.96,769.29 1371.14,769.12 1380.32,765.76 1389.50,764.48 1398.67,764.51 1407.85,769.48 1417.03,774.34 1426.21,776.54 1435.38,775.55 1444.56,772.46 1453.74,782.50 1462.92,786.27 1472.09,789.59 1481.27,793.93 1490.45,795.12 1499.63,795.37 1508.80,793.63 1517.98,794.10 1527.16,792.65 1536.34,790.79 1545.51,788.14 1554.69,782.16 1563.87,776.21 1573.05,775.33 1582.23,773.22 1591.40,774.10 1600.58,780.02 1609.76,781.68 1618.94,778.78 1628.11,774.51 1637.29,776.33 1646.47,779.86 1655.65,783.48 1664.82,789.17 1674.00,792.29 1683.18,795.71 1692.36,797.30 1701.53,797.39 1710.71,794.37 1719.89,792.63 1729.07,791.09 1738.25,788.04 1747.42,782.29 1756.60,777.51 1765.78,778.24 1774.96,786.50 1784.13,790.59 1793.31,793.33 1802.49,790.32 1811.67,790.42 1820.84,788.04 1830.02,778.94 1839.20,772.63 1848.38,771.20 1857.55,771.41 1866.73,772.00 1875.91,778.60 1885.09,783.07 1894.26,785.34 1903.44,786.86 1912.62,787.38" fill="none" stroke="#f0bd1c" stroke-width="2.5" stroke-linejoin="round"/>
<polyline points="95.45,790.52 104.63,795.75 113.81,803.49 122.98,802.45 132.16,803.40 141.34,796.16 150.52,789.08 159.69,775.29 168.87,789.72 178.05,797.04 187.23,800.51 196.40,798.34 205.58,791.64 214.76,787.06 223.94,784.45 233.11,780.42 242.29,781.05 251.47,782.10 260.65,770.11 269.82,763.30 279.00,779.78 288.18,784.97 297.36,779.28 306.54,783.31 315.71,788.03 324.89,782.24 334.07,786.50 343.25,794.55 352.42,793.83 361.60,779.46 370.78,769.63 379.96,763.87 389.13,760.89 398.31,755.05 407.49,758.41 416.67,760.82 425.84,763.86 435.02,764.23 444.20,761.27 453.38,765.93 462.56,763.75 471.73,777.74 480.91,786.97 490.09,803.97 499.27,801.98 508.44,803.91 517.62,800.45 526.80,790.37 535.98,788.37 545.15,780.55 554.33,769.66 563.51,757.34 572.69,761.66 581.86,773.95 591.04,780.66 600.22,795.82 609.40,803.92 618.57,797.24 627.75,778.39 636.93,766.45 646.11,763.04 655.29,754.59 664.46,751.40 673.64,755.22 682.82,754.34 692.00,761.25 701.17,769.92 710.35,782.64 719.53,792.57 728.71,795.95 737.88,799.61 747.06,803.26 756.24,804.14 765.42,804.70 774.59,799.72 783.77,791.54 792.95,779.92 802.13,764.91 811.30,761.63 820.48,755.23 829.66,760.01 838.84,757.07 848.02,761.74 857.19,754.58 866.37,761.05 875.55,772.92 884.73,779.55 893.90,788.00 903.08,783.11 912.26,771.64 921.44,763.11 930.61,758.87 939.79,761.10 948.97,764.57 958.15,766.55 967.32,779.70 976.50,781.21 985.68,777.28 994.86,782.30 1004.03,781.61 1013.21,786.51 1022.39,796.56 1031.57,789.27 1040.75,791.77 1049.92,800.81 1059.10,803.45 1068.28,800.79 1077.46,789.79 1086.63,786.02 1095.81,787.87 1104.99,791.47 1114.17,798.17 1123.34,800.94 1132.52,799.08 1141.70,804.67 1150.88,799.27 1160.05,803.05 1169.23,803.04 1178.41,798.72 1187.59,792.80 1196.77,796.53 1205.94,801.56 1215.12,805.83 1224.30,798.55 1233.48,792.04 1242.65,788.37 1251.83,784.56 1261.01,787.69 1270.19,791.47 1279.36,788.25 1288.54,784.37 1297.72,784.66 1306.90,789.27 1316.07,778.39 1325.25,760.55 1334.43,759.86 1343.61,765.46 1352.78,761.66 1361.96,759.82 1371.14,762.58 1380.32,756.93 1389.50,756.88 1398.67,759.50 1407.85,772.76 1417.03,783.00 1426.21,785.26 1435.38,780.04 1444.56,771.32 1453.74,795.14 1462.92,799.72 1472.09,802.99 1481.27,808.64 1490.45,806.51 1499.63,803.30 1508.80,796.59 1517.98,796.71 1527.16,792.44 1536.34,788.19 1545.51,782.88 1554.69,770.68 1563.87,760.60 1573.05,763.76 1582.23,762.70 1591.40,768.26 1600.58,784.02 1609.76,786.57 1618.94,778.16 1628.11,768.41 1637.29,774.68 1646.47,783.48 1655.65,790.72 1664.82,801.58 1674.00,804.72 1683.18,808.57 1692.36,807.97 1701.53,804.63 1710.71,795.17 1719.89,790.85 1729.07,787.84 1738.25,781.82 1747.42,770.46 1756.60,763.25 1765.78,769.71 1774.96,791.84 1784.13,799.59 1793.31,802.98 1802.49,792.74 1811.67,792.18 1820.84,786.04 1830.02,765.47 1839.20,755.24 1848.38,757.70 1857.55,762.67 1866.73,766.98 1875.91,784.05 1885.09,792.66 1894.26,794.76 1903.44,795.16 1912.62,793.62" fill="none" stroke="#9570cc" stroke-width="2.5" stroke-linejoin="round"/>
<path d="M139.24 870.60H143.44V875.92H139.24Z" fill="none" stroke="#f6465d" stroke-width="1.8"/>
<path d="M148.42 870.60H152.62V874.57H148.42Z" fill="none" stroke="#f6465d" stroke-width="1.8"/>
<path d="M203.48 870.60H207.68V882.04H203.48Z" fill="none" stroke="#f6465d" stroke-width="1.8"/>
<path d="M212.66 870.60H216.86V879.42H212.66Z" fill="none" stroke="#f6465d" stroke-width="1.8"/>
<path d="M221.84 870.60H226.04V876.77H221.84Z" fill="none" stroke="#f6465d" stroke-width="1.8"/>
<path d="M231.01 870.60H235.21V873.28H231.01Z" fill="none" stroke="#f6465d" stroke-width="1.8"/>
<path d="M322.79 866.82H326.99V868.80H322.79Z" fill="none" stroke="#2ebd85" stroke-width="1.8"/>
<path d="M350.32 867.60H354.52V868.80H350.32Z" fill="none" stroke="#2ebd85" stroke-width="1.8"/>
<path d="M359.50 866.46H363.70V868.80H359.50Z" fill="none" stroke="#2ebd85" stroke-width="1.8"/>
<path d="M368.68 865.44H372.88V868.80H368.68Z" fill="none" stroke="#2ebd85" stroke-width="1.8"/>
<path d="M377.86 864.69H382.06V868.80H377.86Z" fill="none" stroke="#2ebd85" stroke-width="1.8"/>
<path d="M387.03 863.67H391.23V868.80H387.03Z" fill="none" stroke="#2ebd85" stroke-width="1.8"/>
<path d="M396.21 862.49H400.41V868.80H396.21Z" fill="none" stroke="#2ebd85" stroke-width="1.8"/>
<path d="M460.46 863.88H464.66V868.80H460.46Z" fill="none" stroke="#2ebd85" stroke-width="1.8"/>
<path d="M653.19 864.76H657.39V868.80H653.19Z" fill="none" stroke="#2ebd85" stroke-width="1.8"/>
<path d="M662.36 862.04H666.56V868.80H662.36Z" fill="none" stroke="#2ebd85" stroke-width="1.8"/>
<path d="M671.54 861.41H675.74V868.80H671.54Z" fill="none" stroke="#2ebd85" stroke-width="1.8"/>
<path d="M680.72 860.61H684.92V868.80H680.72Z" fill="none" stroke="#2ebd85" stroke-width="1.8"/>
<path d="M790.85 870.60H795.05V871.94H790.85Z" fill="none" stroke="#f6465d" stroke-width="1.8"/>
<path d="M928.51 866.06H932.71V868.80H928.51Z" fill="none" stroke="#2ebd85" stroke-width="1.8"/>
<path d="M937.69 865.49H941.89V868.80H937.69Z" fill="none" stroke="#2ebd85" stroke-width="1.8"/>
<path d="M1075.36 870.60H1079.56V873.71H1075.36Z" fill="none" stroke="#f6465d" stroke-width="1.8"/>
<path d="M1084.53 870.60H1088.73V873.28H1084.53Z" fill="none" stroke="#f6465d" stroke-width="1.8"/>
<path d="M1093.71 870.60H1097.91V873.26H1093.71Z" fill="none" stroke="#f6465d" stroke-width="1.8"/>
<path d="M1121.24 870.60H1125.44V873.51H1121.24Z" fill="none" stroke="#f6465d" stroke-width="1.8"/>
<path d="M1130.42 870.60H1134.62V873.30H1130.42Z" fill="none" stroke="#f6465d" stroke-width="1.8"/>
<path d="M1176.31 870.60H1180.51V878.11H1176.31Z" fill="none" stroke="#f6465d" stroke-width="1.8"/>
<path d="M1185.49 870.60H1189.69V876.43H1185.49Z" fill="none" stroke="#f6465d" stroke-width="1.8"/>
<path d="M1194.67 870.60H1198.87V875.78H1194.67Z" fill="none" stroke="#f6465d" stroke-width="1.8"/>
<path d="M1222.20 870.60H1226.40V875.86H1222.20Z" fill="none" stroke="#f6465d" stroke-width="1.8"/>
<path d="M1231.38 870.60H1235.58V874.93H1231.38Z" fill="none" stroke="#f6465d" stroke-width="1.8"/>
<path d="M1240.55 870.60H1244.75V873.77H1240.55Z" fill="none" stroke="#f6465d" stroke-width="1.8"/>
<path d="M1249.73 870.60H1253.93V872.33H1249.73Z" fill="none" stroke="#f6465d" stroke-width="1.8"/>
<path d="M1332.33 867.42H1336.53V868.80H1332.33Z" fill="none" stroke="#2ebd85" stroke-width="1.8"/>
<path d="M1341.51 867.21H1345.71V868.80H1341.51Z" fill="none" stroke="#2ebd85" stroke-width="1.8"/>
<path d="M1350.68 866.50H1354.88V868.80H1350.68Z" fill="none" stroke="#2ebd85" stroke-width="1.8"/>
<path d="M1359.86 865.51H1364.06V868.80H1359.86Z" fill="none" stroke="#2ebd85" stroke-width="1.8"/>
<path d="M1369.04 864.47H1373.24V868.80H1369.04Z" fill="none" stroke="#2ebd85" stroke-width="1.8"/>
<path d="M1378.22 861.95H1382.42V868.80H1378.22Z" fill="none" stroke="#2ebd85" stroke-width="1.8"/>
<path d="M1387.40 860.97H1391.60V868.80H1387.40Z" fill="none" stroke="#2ebd85" stroke-width="1.8"/>
<path d="M1396.57 860.90H1400.77V868.80H1396.57Z" fill="none" stroke="#2ebd85" stroke-width="1.8"/>
<path d="M1442.46 864.66H1446.66V868.80H1442.46Z" fill="none" stroke="#2ebd85" stroke-width="1.8"/>
<path d="M1506.70 870.60H1510.90V871.81H1506.70Z" fill="none" stroke="#f6465d" stroke-width="1.8"/>
<path d="M1708.61 870.60H1712.81V884.66H1708.61Z" fill="none" stroke="#f6465d" stroke-width="1.8"/>
<path d="M1717.79 870.60H1721.99V881.84H1717.79Z" fill="none" stroke="#f6465d" stroke-width="1.8"/>
<path d="M1726.97 870.60H1731.17V878.86H1726.97Z" fill="none" stroke="#f6465d" stroke-width="1.8"/>
<path d="M1736.15 870.60H1740.35V875.01H1736.15Z" fill="none" stroke="#f6465d" stroke-width="1.8"/>
<path d="M1745.32 870.60H1749.52V872.32H1745.32Z" fill="none" stroke="#f6465d" stroke-width="1.8"/>
<path d="M1827.92 863.55H1832.12V868.80H1827.92Z" fill="none" stroke="#2ebd85" stroke-width="1.8"/>
<path d="M1837.10 858.11H1841.30V868.80H1837.10Z" fill="none" stroke="#2ebd85" stroke-width="1.8"/>
<path d="M1846.28 856.85H1850.48V868.80H1846.28Z" fill="none" stroke="#2ebd85" stroke-width="1.8"/>
<path d="M1910.52 865.71H1914.72V868.80H1910.52Z" fill="none" stroke="#2ebd85" stroke-width="1.8"/>
<path d="M101.63 869.70H107.63V871.20H101.63ZM110.81 869.70H116.81V871.97H110.81ZM119.98 869.70H125.98V875.03H119.98ZM129.16 869.70H135.16V877.27H129.16ZM156.69 869.70H162.69V872.25H156.69ZM165.87 869.70H171.87V873.91H165.87ZM175.05 869.70H181.05V880.05H175.05ZM184.23 869.70H190.23V883.35H184.23ZM193.40 869.70H199.40V884.92H193.40ZM239.29 869.70H245.29V872.54H239.29ZM248.47 869.70H254.47V872.88H248.47ZM257.65 869.70H263.65V871.20H257.65ZM606.40 869.70H612.40V871.20H606.40ZM615.57 869.70H621.57V871.20H615.57ZM734.88 869.70H740.88V871.20H734.88ZM744.06 869.70H750.06V871.20H744.06ZM753.24 869.70H759.24V871.63H753.24ZM762.42 869.70H768.42V872.16H762.42ZM771.59 869.70H777.59V873.19H771.59ZM780.77 869.70H786.77V873.30H780.77ZM799.13 869.70H805.13V872.09H799.13ZM808.30 869.70H814.30V871.80H808.30ZM817.48 869.70H823.48V871.20H817.48ZM826.66 869.70H832.66V871.20H826.66ZM835.84 869.70H841.84V871.20H835.84ZM845.02 869.70H851.02V871.20H845.02ZM890.90 869.70H896.90V871.20H890.90ZM1019.39 869.70H1025.39V871.20H1019.39ZM1028.57 869.70H1034.57V871.20H1028.57ZM1037.75 869.70H1043.75V871.20H1037.75ZM1046.92 869.70H1052.92V872.90H1046.92ZM1056.10 869.70H1062.10V874.66H1056.10ZM1065.28 869.70H1071.28V875.28H1065.28ZM1101.99 869.70H1107.99V874.21H1101.99ZM1111.17 869.70H1117.17V874.47H1111.17ZM1138.70 869.70H1144.70V876.95H1138.70ZM1147.88 869.70H1153.88V878.46H1147.88ZM1157.05 869.70H1163.05V880.02H1157.05ZM1166.23 869.70H1172.23V880.16H1166.23ZM1202.94 869.70H1208.94V877.06H1202.94ZM1212.12 869.70H1218.12V877.06H1212.12ZM1258.01 869.70H1264.01V872.42H1258.01ZM1267.19 869.70H1273.19V872.03H1267.19ZM1276.36 869.70H1282.36V871.20H1276.36ZM1285.54 869.70H1291.54V871.20H1285.54ZM1294.72 869.70H1300.72V871.20H1294.72ZM1303.90 869.70H1309.90V871.20H1303.90ZM1469.09 869.70H1475.09V871.20H1469.09ZM1478.27 869.70H1484.27V872.41H1478.27ZM1487.45 869.70H1493.45V873.52H1487.45ZM1496.63 869.70H1502.63V873.72H1496.63ZM1514.98 869.70H1520.98V872.58H1514.98ZM1524.16 869.70H1530.16V871.47H1524.16ZM1533.34 869.70H1539.34V871.76H1533.34ZM1542.51 869.70H1548.51V871.45H1542.51ZM1551.69 869.70H1557.69V871.20H1551.69ZM1652.65 869.70H1658.65V871.20H1652.65ZM1661.82 869.70H1667.82V875.51H1661.82ZM1671.00 869.70H1677.00V880.19H1671.00ZM1680.18 869.70H1686.18V883.83H1680.18ZM1689.36 869.70H1695.36V888.18H1689.36ZM1698.53 869.70H1704.53V888.92H1698.53ZM1753.60 869.70H1759.60V871.20H1753.60ZM1762.78 869.70H1768.78V871.20H1762.78ZM1771.96 869.70H1777.96V872.25H1771.96ZM1781.13 869.70H1787.13V872.63H1781.13ZM1790.31 869.70H1796.31V874.33H1790.31ZM1799.49 869.70H1805.49V872.35H1799.49ZM1808.67 869.70H1814.67V871.66H1808.67ZM1817.84 869.70H1823.84V871.20H1817.84Z" fill="#f6465d"/>
<path d="M92.45 868.20H98.45V869.70H92.45ZM266.82 868.20H272.82V869.70H266.82ZM276.00 868.20H282.00V869.70H276.00ZM285.18 868.20H291.18V869.70H285.18ZM294.36 867.44H300.36V869.70H294.36ZM303.54 867.04H309.54V869.70H303.54ZM312.71 867.03H318.71V869.70H312.71ZM331.07 865.96H337.07V869.70H331.07ZM340.25 866.76H346.25V869.70H340.25ZM404.49 861.66H410.49V869.70H404.49ZM413.67 861.94H419.67V869.70H413.67ZM422.84 862.34H428.84V869.70H422.84ZM432.02 862.51H438.02V869.70H432.02ZM441.20 862.51H447.20V869.70H441.20ZM450.38 863.03H456.38V869.70H450.38ZM468.73 863.81H474.73V869.70H468.73ZM477.91 864.68H483.91V869.70H477.91ZM487.09 867.30H493.09V869.70H487.09ZM496.27 868.20H502.27V869.70H496.27ZM505.44 868.20H511.44V869.70H505.44ZM514.62 868.20H520.62V869.70H514.62ZM523.80 868.20H529.80V869.70H523.80ZM532.98 868.20H538.98V869.70H532.98ZM542.15 868.20H548.15V869.70H542.15ZM551.33 868.08H557.33V869.70H551.33ZM560.51 866.75H566.51V869.70H560.51ZM569.69 866.81H575.69V869.70H569.69ZM578.86 867.72H584.86V869.70H578.86ZM588.04 868.18H594.04V869.70H588.04ZM597.22 868.20H603.22V869.70H597.22ZM624.75 868.20H630.75V869.70H624.75ZM633.93 867.68H639.93V869.70H633.93ZM643.11 867.41H649.11V869.70H643.11ZM689.00 861.01H695.00V869.70H689.00ZM698.17 862.90H704.17V869.70H698.17ZM707.35 865.26H713.35V869.70H707.35ZM716.53 867.56H722.53V869.70H716.53ZM725.71 868.20H731.71V869.70H725.71ZM854.19 868.20H860.19V869.70H854.19ZM863.37 868.20H869.37V869.70H863.37ZM872.55 868.20H878.55V869.70H872.55ZM881.73 868.20H887.73V869.70H881.73ZM900.08 868.20H906.08V869.70H900.08ZM909.26 868.20H915.26V869.70H909.26ZM918.44 867.15H924.44V869.70H918.44ZM945.97 864.76H951.97V869.70H945.97ZM955.15 865.22H961.15V869.70H955.15ZM964.32 867.06H970.32V869.70H964.32ZM973.50 867.98H979.50V869.70H973.50ZM982.68 868.20H988.68V869.70H982.68ZM991.86 868.20H997.86V869.70H991.86ZM1001.03 868.20H1007.03V869.70H1001.03ZM1010.21 868.20H1016.21V869.70H1010.21ZM1313.07 868.20H1319.07V869.70H1313.07ZM1322.25 867.34H1328.25V869.70H1322.25ZM1404.85 861.38H1410.85V869.70H1404.85ZM1414.03 862.95H1420.03V869.70H1414.03ZM1423.21 863.90H1429.21V869.70H1423.21ZM1432.38 864.00H1438.38V869.70H1432.38ZM1450.74 868.02H1456.74V869.70H1450.74ZM1459.92 868.20H1465.92V869.70H1459.92ZM1560.87 868.20H1566.87V869.70H1560.87ZM1570.05 868.20H1576.05V869.70H1570.05ZM1579.23 868.20H1585.23V869.70H1579.23ZM1588.40 868.20H1594.40V869.70H1588.40ZM1597.58 868.20H1603.58V869.70H1597.58ZM1606.76 868.20H1612.76V869.70H1606.76ZM1615.94 868.20H1621.94V869.70H1615.94ZM1625.11 868.20H1631.11V869.70H1625.11ZM1634.29 868.20H1640.29V869.70H1634.29ZM1643.47 868.20H1649.47V869.70H1643.47ZM1854.55 856.33H1860.55V869.70H1854.55ZM1863.73 857.30H1869.73V869.70H1863.73ZM1872.91 861.57H1878.91V869.70H1872.91ZM1882.09 863.85H1888.09V869.70H1882.09ZM1891.26 864.99H1897.26V869.70H1891.26ZM1900.44 864.99H1906.44V869.70H1900.44Z" fill="#2ebd85"/>
<polyline points="95.45,876.93 104.63,877.00 113.81,877.57 122.98,878.90 132.16,880.79 141.34,882.57 150.52,884.02 159.69,884.65 168.87,885.71 178.05,888.29 187.23,891.71 196.40,895.51 205.58,898.82 214.76,901.48 223.94,903.47 233.11,904.59 242.29,905.30 251.47,906.10 260.65,906.44 269.82,906.34 279.00,906.33 288.18,906.18 297.36,905.61 306.54,904.95 315.71,904.28 324.89,903.33 334.07,902.40 343.25,901.66 352.42,900.91 361.60,899.88 370.78,898.59 379.96,897.11 389.13,895.38 398.31,893.35 407.49,891.34 416.67,889.40 425.84,887.56 435.02,885.76 444.20,883.96 453.38,882.29 462.56,880.61 471.73,879.14 480.91,877.89 490.09,877.29 499.27,876.91 508.44,876.81 517.62,876.78 526.80,876.63 535.98,876.45 545.15,876.21 554.33,875.80 563.51,875.06 572.69,874.34 581.86,873.85 591.04,873.47 600.22,873.32 609.40,873.41 618.57,873.46 627.75,873.19 636.93,872.69 646.11,872.11 655.29,870.65 664.46,868.51 673.64,866.21 682.82,863.72 692.00,861.54 701.17,859.84 710.35,858.73 719.53,858.20 728.71,858.03 737.88,858.11 747.06,858.42 756.24,858.91 765.42,859.52 774.59,860.39 783.77,861.29 792.95,862.08 802.13,862.67 811.30,863.20 820.48,863.49 829.66,863.77 838.84,863.92 848.02,864.10 857.19,864.09 866.37,864.05 875.55,864.00 884.73,863.97 893.90,863.99 903.08,863.98 912.26,863.88 921.44,863.24 930.61,862.11 939.79,860.83 948.97,859.59 958.15,858.47 967.32,857.81 976.50,857.38 985.68,857.03 994.86,856.87 1004.03,856.72 1013.21,856.71 1022.39,856.93 1031.57,857.17 1040.75,857.52 1049.92,858.32 1059.10,859.56 1068.28,860.96 1077.46,862.18 1086.63,863.30 1095.81,864.42 1104.99,865.55 1114.17,866.74 1123.34,867.92 1132.52,869.04 1141.70,870.85 1150.88,873.04 1160.05,875.62 1169.23,878.24 1178.41,880.56 1187.59,882.47 1196.77,884.22 1205.94,886.06 1215.12,887.90 1224.30,889.66 1233.48,891.19 1242.65,892.44 1251.83,893.32 1261.01,894.00 1270.19,894.58 1279.36,894.96 1288.54,895.25 1297.72,895.50 1306.90,895.74 1316.07,895.65 1325.25,895.06 1334.43,894.27 1343.61,893.42 1352.78,892.40 1361.96,891.12 1371.14,889.59 1380.32,887.43 1389.50,885.02 1398.67,882.60 1407.85,880.52 1417.03,878.83 1426.21,877.38 1435.38,875.96 1444.56,874.47 1453.74,874.05 1462.92,874.03 1472.09,874.34 1481.27,875.02 1490.45,875.97 1499.63,876.98 1508.80,877.73 1517.98,878.45 1527.16,878.89 1536.34,879.41 1545.51,879.85 1554.69,880.04 1563.87,879.95 1573.05,879.77 1582.23,879.47 1591.40,879.17 1600.58,879.07 1609.76,879.01 1618.94,878.81 1628.11,878.46 1637.29,878.15 1646.47,877.94 1655.65,878.04 1664.82,879.49 1674.00,882.11 1683.18,885.64 1692.36,890.27 1701.53,895.07 1710.71,899.04 1719.89,902.30 1729.07,904.81 1738.25,906.37 1747.42,907.25 1756.60,907.46 1765.78,907.63 1774.96,908.26 1784.13,908.99 1793.31,910.15 1802.49,910.81 1811.67,911.31 1820.84,911.32 1830.02,909.56 1839.20,906.44 1848.38,903.00 1857.55,899.66 1866.73,896.56 1875.91,894.52 1885.09,893.06 1894.26,891.88 1903.44,890.70 1912.62,889.48" fill="none" stroke="#d94fc8" stroke-width="2.5" stroke-linejoin="round"/>
<polyline points="95.45,876.74 104.63,877.29 113.81,879.83 122.98,884.24 132.16,888.36 141.34,889.70 150.52,889.78 159.69,887.20 168.87,889.92 178.05,898.64 187.23,905.36 196.40,910.73 205.58,912.07 214.76,912.10 223.94,911.44 233.11,909.07 242.29,908.14 251.47,909.28 260.65,907.83 269.82,905.95 279.00,906.26 288.18,905.57 297.36,903.36 306.54,902.29 315.71,901.61 324.89,899.55 334.07,898.65 343.25,898.72 352.42,897.91 361.60,895.73 370.78,893.43 379.96,891.20 389.13,888.44 398.31,885.23 407.49,883.30 416.67,881.64 425.84,880.19 435.02,878.56 444.20,876.77 453.38,875.63 462.56,873.90 471.73,873.26 480.91,872.87 490.09,874.89 499.27,875.42 508.44,876.38 517.62,876.68 526.80,876.00 535.98,875.77 545.15,875.22 554.33,874.19 563.51,872.11 572.69,871.45 581.86,871.87 591.04,871.94 600.22,872.74 609.40,873.79 618.57,873.64 627.75,872.12 636.93,870.66 646.11,869.82 655.29,864.81 664.46,859.95 673.64,857.02 682.82,853.73 692.00,852.85 701.17,853.04 710.35,854.29 719.53,856.06 728.71,857.37 737.88,858.39 747.06,859.70 756.24,860.83 765.42,861.98 774.59,863.88 783.77,864.90 792.95,865.22 802.13,865.06 811.30,865.30 820.48,864.65 829.66,864.89 838.84,864.52 848.02,864.82 857.19,864.04 866.37,863.88 875.55,863.82 884.73,863.84 893.90,864.08 903.08,863.94 912.26,863.45 921.44,860.69 930.61,857.57 939.79,855.72 948.97,854.66 958.15,853.99 967.32,855.18 976.50,855.66 985.68,855.59 994.86,856.23 1004.03,856.12 1013.21,856.65 1022.39,857.82 1031.57,858.11 1040.75,858.93 1049.92,861.52 1059.10,864.52 1068.28,866.54 1077.46,867.09 1086.63,867.79 1095.81,868.88 1104.99,870.06 1114.17,871.51 1123.34,872.62 1132.52,873.54 1141.70,878.10 1150.88,881.81 1160.05,885.94 1169.23,888.69 1178.41,889.87 1187.59,890.11 1196.77,891.20 1205.94,893.41 1215.12,895.26 1224.30,896.72 1233.48,897.32 1242.65,897.41 1251.83,896.85 1261.01,896.72 1270.19,896.92 1279.36,896.46 1288.54,896.40 1297.72,896.52 1306.90,896.70 1316.07,895.30 1325.25,892.70 1334.43,891.09 1343.61,890.04 1352.78,888.29 1361.96,886.03 1371.14,883.46 1380.32,878.78 1389.50,875.39 1398.67,872.89 1407.85,872.20 1417.03,872.08 1426.21,871.59 1435.38,870.26 1444.56,868.53 1453.74,872.37 1462.92,873.97 1472.09,875.56 1481.27,877.73 1490.45,879.80 1499.63,881.00 1508.80,880.74 1517.98,881.33 1527.16,880.66 1536.34,881.47 1545.51,881.60 1554.69,880.80 1563.87,879.59 1573.05,879.07 1582.23,878.25 1591.40,877.96 1600.58,878.71 1609.76,878.74 1618.94,878.05 1628.11,877.03 1637.29,876.91 1646.47,877.12 1655.65,878.41 1664.82,885.30 1674.00,892.61 1683.18,899.78 1692.36,908.75 1701.53,914.29 1710.71,914.90 1719.89,915.34 1729.07,914.88 1738.25,912.58 1747.42,910.76 1756.60,908.30 1765.78,908.30 1774.96,910.81 1784.13,911.92 1793.31,914.78 1802.49,913.47 1811.67,913.27 1820.84,911.39 1830.02,902.51 1839.20,893.95 1848.38,889.24 1857.55,886.28 1866.73,884.15 1875.91,886.40 1885.09,887.21 1894.26,887.17 1903.44,885.99 1912.62,884.60" fill="none" stroke="#f0bd1c" stroke-width="2.5" stroke-linejoin="round"/>
<polyline points="95.45,984.02 104.63,990.72 113.81,998.75 122.98,1004.34 132.16,1005.78 141.34,994.72 150.52,990.50 159.69,979.47 168.87,994.98 178.05,1004.30 187.23,1004.50 196.40,1005.08 205.58,994.72 214.76,992.63 223.94,991.69 233.11,985.57 242.29,990.45 251.47,996.93 260.65,988.16 269.82,986.79 279.00,994.09 288.18,991.34 297.36,985.03 306.54,989.42 315.71,991.53 324.89,984.76 334.07,989.81 343.25,994.35 352.42,990.57 361.60,982.87 370.78,981.09 379.96,980.12 389.13,975.33 398.31,970.92 407.49,978.41 416.67,978.41 425.84,978.41 435.02,974.96 444.20,971.55 453.38,977.00 462.56,970.42 471.73,981.17 480.91,983.07 490.09,1000.28 499.27,990.31 508.44,993.88 517.62,990.03 526.80,982.50 535.98,985.81 545.15,982.87 554.33,978.01 563.51,969.90 572.69,980.48 581.86,988.15 591.04,986.05 600.22,991.85 609.40,994.89 618.57,985.14 627.75,975.23 636.93,973.87 646.11,977.35 655.29,961.51 664.46,959.91 673.64,966.40 682.82,963.61 692.00,975.14 701.17,979.55 710.35,985.01 719.53,988.38 728.71,986.69 737.88,985.45 747.06,988.47 756.24,988.47 765.42,989.97 774.59,997.50 783.77,990.01 792.95,983.63 802.13,978.88 811.30,982.86 820.48,974.24 829.66,982.83 838.84,977.13 848.02,983.44 857.19,974.37 866.37,978.91 875.55,978.91 884.73,978.91 893.90,981.54 903.08,976.23 912.26,971.09 921.44,959.23 930.61,957.08 939.79,963.44 948.97,966.66 958.15,966.66 967.32,985.28 976.50,980.03 985.68,975.47 994.86,981.32 1004.03,975.32 1013.21,980.49 1022.39,986.60 1031.57,979.41 1040.75,984.20 1049.92,996.89 1059.10,1000.64 1068.28,996.35 1077.46,986.06 1086.63,987.79 1095.81,991.79 1104.99,993.98 1114.17,997.57 1123.34,997.57 1132.52,998.18 1141.70,1011.18 1150.88,1011.49 1160.05,1013.13 1169.23,1009.34 1178.41,1000.28 1187.59,995.29 1196.77,1000.56 1205.94,1005.51 1215.12,1006.45 1224.30,1007.24 1233.48,1004.02 1242.65,1002.83 1251.83,997.78 1261.01,1001.61 1270.19,1004.67 1279.36,999.24 1288.54,1002.91 1297.72,1005.25 1306.90,1006.93 1316.07,988.10 1325.25,977.22 1334.43,983.82 1343.61,987.75 1352.78,981.28 1361.96,975.93 1371.14,971.91 1380.32,962.31 1389.50,966.39 1398.67,968.98 1407.85,981.46 1417.03,985.03 1426.21,981.91 1435.38,975.38 1444.56,971.42 1453.74,998.80 1462.92,991.12 1472.09,992.47 1481.27,995.94 1490.45,997.49 1499.63,994.99 1508.80,986.82 1517.98,991.76 1527.16,984.65 1536.34,992.36 1545.51,989.59 1554.69,984.03 1563.87,980.89 1573.05,985.14 1582.23,982.58 1591.40,986.69 1600.58,994.41 1609.76,989.43 1618.94,983.42 1628.11,979.99 1637.29,987.52 1646.47,990.78 1655.65,998.73 1664.82,1011.10 1674.00,1012.62 1683.18,1013.60 1692.36,1015.07 1701.53,1008.92 1710.71,993.60 1719.89,994.68 1729.07,993.31 1738.25,986.57 1747.42,988.42 1756.60,985.42 1765.78,994.62 1774.96,1001.59 1784.13,999.34 1793.31,1004.16 1802.49,989.33 1811.67,992.96 1820.84,987.67 1830.02,970.50 1839.20,968.66 1848.38,976.78 1857.55,979.92 1866.73,981.26 1875.91,992.80 1885.09,990.00 1894.26,988.13 1903.44,984.28 1912.62,983.07" fill="none" stroke="#f0bd1c" stroke-width="2.5" stroke-linejoin="round"/>
<path d="M104 33H148.2V41.4H104Z M104 50.5H130V59H104Z M138 46L148.2 55L138 64Z M104 69H148.2V77.4H104Z" fill="#eaecef"/>
<path d="M2286.2 40.2L2314.8 68.8M2314.8 40.2L2286.2 68.8" stroke="#7c8595" stroke-width="5.6" fill="none"/>
<path d="M2161 143.8H2193V149H2161Z M2161 156H2170.4V161.1H2161Z M2161 168H2170.4V173.5H2161Z" fill="#7c8595"/>
<polygon points="2183.10,154.20 2173.57,159.70 2173.57,170.70 2183.10,176.20 2192.63,170.70 2192.63,159.70" fill="#7c8595"/><circle cx="2183.1" cy="165.2" r="3.7" fill="#1f2430"/>
<path d="M1947.7 151H1964.3L1956 164Z" fill="#7c8595"/>
<path d="M2293.1 257.8L2311.7 239.4L2320.6 248.1L2308.9 259.7H2318.6V266.9H2293.1Z M2315.6 235.8L2319.4 231.9L2328.1 240.6L2324.2 244.7Z M2323.1 260H2330V266.9H2323.1Z" fill="#eaecef"/>
<path d="M2293.1 963.6H2300V993.6H2330V1000.8H2293.1Z M2308.9 989.2H2321.1L2315 983.1Z" fill="#eaecef"/>
<polyline points="2295,985.5 2308.6,972.8 2314.7,978.3 2327.5,965.8" fill="none" stroke="#eaecef" stroke-width="5.8" stroke-linejoin="miter"/>
<path d="M2261 303.5H2361M2261 710H2361M2261 927.5H2361" stroke="#2e3340" stroke-width="1.3"/>
<path d="M95 343H136M1751.5 591.7H1793" stroke="#d8dbe0" stroke-width="1.6"/>
<path d="M1916 543H2093" stroke="#c8ccd2" stroke-width="2" stroke-dasharray="5.5 5.5"/>
<text x="170.57" y="77.00" font-size="50.29" font-weight="bold" fill="#eaecef"  textLength="251.12" lengthAdjust="spacingAndGlyphs">ETH/USDC</text>
<text x="467.94" y="51.80" font-size="45.14" font-weight="bold" fill="#f6465d"  textLength="163.20" lengthAdjust="spacingAndGlyphs">1,544.53</text>
<text x="466.70" y="102.00" font-size="32.86" font-weight="normal" fill="#eaecef" stroke="#eaecef" stroke-width="0.8" textLength="169.25" lengthAdjust="spacingAndGlyphs">≈ $1,543.91</text>
<text x="663.60" y="102.00" font-size="32.86" font-weight="normal" fill="#f6465d" stroke="#f6465d" stroke-width="0.8" textLength="103.82" lengthAdjust="spacingAndGlyphs">-4.86%</text>
<text x="813.04" y="47.30" font-size="29.00" font-weight="normal" fill="#848e9c"  textLength="151.69" lengthAdjust="spacingAndGlyphs">24h Máximo</text>
<text x="812.11" y="86.80" font-size="29.00" font-weight="normal" fill="#eaecef"  textLength="106.73" lengthAdjust="spacingAndGlyphs">1,627.00</text>
<text x="998.54" y="47.30" font-size="29.00" font-weight="normal" fill="#848e9c"  textLength="144.95" lengthAdjust="spacingAndGlyphs">24h Mínimo</text>
<text x="997.64" y="86.80" font-size="29.00" font-weight="normal" fill="#eaecef"  textLength="104.96" lengthAdjust="spacingAndGlyphs">1,471.54</text>
<text x="1177.00" y="47.30" font-size="29.00" font-weight="normal" fill="#848e9c"  textLength="178.11" lengthAdjust="spacingAndGlyphs">Vol. 24 h(ETH)</text>
<text x="1176.06" y="86.80" font-size="29.00" font-weight="normal" fill="#eaecef"  textLength="137.04" lengthAdjust="spacingAndGlyphs">909,715.26</text>
<text x="1389.70" y="47.30" font-size="29.00" font-weight="normal" fill="#848e9c"  textLength="196.55" lengthAdjust="spacingAndGlyphs">Vol. 24 h(USDC)</text>
<text x="1388.11" y="86.80" font-size="29.00" font-weight="normal" fill="#eaecef"  textLength="71.64" lengthAdjust="spacingAndGlyphs">1.41B</text>
<text x="107.70" y="172.30" font-size="33.29" font-weight="normal" fill="#848e9c"  textLength="73.04" lengthAdjust="spacingAndGlyphs">Time</text>
<text x="352.03" y="172.30" font-size="33.29" font-weight="normal" fill="#848e9c"  textLength="44.87" lengthAdjust="spacingAndGlyphs">5m</text>
<text x="568.07" y="172.30" font-size="33.29" font-weight="normal" fill="#848e9c"  textLength="71.57" lengthAdjust="spacingAndGlyphs">15 m</text>
<text x="809.81" y="172.30" font-size="33.29" font-weight="normal" fill="#848e9c"  textLength="63.91" lengthAdjust="spacingAndGlyphs">30m</text>
<text x="1044.09" y="172.30" font-size="33.29" font-weight="normal" fill="#848e9c"  textLength="35.35" lengthAdjust="spacingAndGlyphs">1h</text>
<text x="1252.00" y="172.30" font-size="33.29" font-weight="normal" fill="#eaecef" stroke="#eaecef" stroke-width="0.8" textLength="35.69" lengthAdjust="spacingAndGlyphs">4h</text>
<text x="1458.93" y="172.30" font-size="33.29" font-weight="normal" fill="#848e9c"  textLength="37.75" lengthAdjust="spacingAndGlyphs">1D</text>
<text x="1669.19" y="172.30" font-size="33.29" font-weight="normal" fill="#848e9c"  textLength="31.86" lengthAdjust="spacingAndGlyphs">1s</text>
<text x="1874.09" y="172.30" font-size="33.29" font-weight="normal" fill="#848e9c"  textLength="60.05" lengthAdjust="spacingAndGlyphs">Más</text>
<text x="107.45" y="223.10" font-size="24.43" font-weight="normal" fill="#f0bd1c"  textLength="200.05" lengthAdjust="spacingAndGlyphs">EMA(20): 1.558,64</text>
<text x="335.03" y="223.10" font-size="24.43" font-weight="normal" fill="#d94fc8"  textLength="201.96" lengthAdjust="spacingAndGlyphs">EMA(50): 1.637,98</text>
<text x="562.63" y="223.10" font-size="24.43" font-weight="normal" fill="#4fd46b"  textLength="214.94" lengthAdjust="spacingAndGlyphs">EMA(200): 1.900,87</text>
<text x="108.50" y="628.75" font-size="24.07" font-weight="normal" fill="#848e9c"  textLength="181.54" lengthAdjust="spacingAndGlyphs">Vol: 38.417,0570</text>
<text x="315.19" y="628.75" font-size="24.07" font-weight="normal" fill="#f0bd1c"  textLength="227.39" lengthAdjust="spacingAndGlyphs">MA(5): 152.733,3185</text>
<text x="570.29" y="628.75" font-size="24.07" font-weight="normal" fill="#9570cc"  textLength="240.77" lengthAdjust="spacingAndGlyphs">MA(10): 199.133,7519</text>
<text x="107.30" y="746.25" font-size="25.36" font-weight="normal" fill="#f0bd1c"  textLength="89.64" lengthAdjust="spacingAndGlyphs">K: 37,38</text>
<text x="221.66" y="746.25" font-size="25.36" font-weight="normal" fill="#d94fc8"  textLength="88.35" lengthAdjust="spacingAndGlyphs">D: 44,21</text>
<text x="338.30" y="746.25" font-size="25.36" font-weight="normal" fill="#9570cc"  textLength="81.91" lengthAdjust="spacingAndGlyphs">J: 23,71</text>
<text x="107.19" y="849.20" font-size="24.57" font-weight="normal" fill="#f0bd1c"  textLength="123.69" lengthAdjust="spacingAndGlyphs">DIF: -26,86</text>
<text x="249.29" y="849.20" font-size="24.57" font-weight="normal" fill="#d94fc8"  textLength="130.90" lengthAdjust="spacingAndGlyphs">DEA: -35,10</text>
<text x="401.37" y="849.20" font-size="24.57" font-weight="normal" fill="#9570cc"  textLength="128.78" lengthAdjust="spacingAndGlyphs">MACD: 8,24</text>
<text x="107.45" y="952.30" font-size="24.86" font-weight="normal" fill="#f0bd1c"  textLength="144.09" lengthAdjust="spacingAndGlyphs">RSI(6): 49,65</text>
<text x="422.04" y="1047.60" font-size="25.43" font-weight="normal" fill="#848e9c"  textLength="192.45" lengthAdjust="spacingAndGlyphs">2025-03-16 21:00</text>
<text x="1129.45" y="1047.60" font-size="25.43" font-weight="normal" fill="#848e9c"  textLength="191.64" lengthAdjust="spacingAndGlyphs">2025-03-29 17:00</text>
<text x="2108.01" y="233.00" font-size="24.29" font-weight="normal" fill="#848e9c"  textLength="93.82" lengthAdjust="spacingAndGlyphs">2.538,47</text>
<text x="2108.04" y="306.30" font-size="25.00" font-weight="normal" fill="#848e9c"  textLength="93.58" lengthAdjust="spacingAndGlyphs">2.299,37</text>
<text x="2108.04" y="379.50" font-size="25.00" font-weight="normal" fill="#848e9c"  textLength="93.58" lengthAdjust="spacingAndGlyphs">2.060,28</text>
<text x="2108.01" y="453.00" font-size="24.29" font-weight="normal" fill="#848e9c"  textLength="93.82" lengthAdjust="spacingAndGlyphs">1.821,19</text>
<text x="2107.04" y="526.00" font-size="24.86" font-weight="normal" fill="#848e9c"  textLength="95.03" lengthAdjust="spacingAndGlyphs">1.582,10</text>
<text x="2107.07" y="599.40" font-size="24.86" font-weight="normal" fill="#848e9c"  textLength="93.28" lengthAdjust="spacingAndGlyphs">1.343,01</text>
<text x="2143.64" y="674.20" font-size="25.43" font-weight="normal" fill="#848e9c"  textLength="56.71" lengthAdjust="spacingAndGlyphs">954K</text>
<text x="2139.08" y="702.00" font-size="25.14" font-weight="normal" fill="#848e9c"  textLength="60.62" lengthAdjust="spacingAndGlyphs">3,74K</text>
<text x="2140.45" y="746.60" font-size="25.43" font-weight="normal" fill="#848e9c"  textLength="60.27" lengthAdjust="spacingAndGlyphs">110,0</text>
<text x="2154.78" y="776.80" font-size="25.43" font-weight="normal" fill="#848e9c"  textLength="45.67" lengthAdjust="spacingAndGlyphs">50,0</text>
<text x="2154.78" y="865.20" font-size="25.43" font-weight="normal" fill="#848e9c"  textLength="45.67" lengthAdjust="spacingAndGlyphs">0,00</text>
<text x="2133.38" y="906.50" font-size="24.14" font-weight="normal" fill="#848e9c"  textLength="70.04" lengthAdjust="spacingAndGlyphs">-80,00</text>
<text x="2154.78" y="958.90" font-size="25.57" font-weight="normal" fill="#848e9c"  textLength="45.93" lengthAdjust="spacingAndGlyphs">80,0</text>
<text x="2155.70" y="986.40" font-size="25.29" font-weight="normal" fill="#848e9c"  textLength="44.50" lengthAdjust="spacingAndGlyphs">40,0</text>
<text x="2286.08" y="358.50" font-size="33.00" font-weight="normal" fill="#848e9c"  textLength="47.44" lengthAdjust="spacingAndGlyphs">MA</text>
<text x="2276.01" y="440.00" font-size="31.71" font-weight="normal" fill="#eaecef" stroke="#eaecef" stroke-width="0.8" textLength="68.40" lengthAdjust="spacingAndGlyphs">EMA</text>
<text x="2271.91" y="520.50" font-size="32.43" font-weight="normal" fill="#848e9c"  textLength="78.46" lengthAdjust="spacingAndGlyphs">BOLL</text>
<text x="2281.10" y="601.00" font-size="32.86" font-weight="normal" fill="#848e9c"  textLength="61.03" lengthAdjust="spacingAndGlyphs">SAR</text>
<text x="2284.00" y="683.50" font-size="33.57" font-weight="normal" fill="#848e9c"  textLength="55.57" lengthAdjust="spacingAndGlyphs">AVL</text>
<text x="2281.90" y="766.60" font-size="33.00" font-weight="normal" fill="#eaecef" stroke="#eaecef" stroke-width="0.8" textLength="59.14" lengthAdjust="spacingAndGlyphs">VOL</text>
<text x="2264.44" y="847.80" font-size="33.57" font-weight="normal" fill="#eaecef" stroke="#eaecef" stroke-width="0.8" textLength="91.93" lengthAdjust="spacingAndGlyphs">MACD</text>
<text x="136.98" y="352.70" font-size="23.14" font-weight="normal" fill="#eaecef"  textLength="92.26" lengthAdjust="spacingAndGlyphs">2.196,80</text>
<text x="1659.68" y="601.90" font-size="23.29" font-weight="normal" fill="#eaecef"  textLength="92.46" lengthAdjust="spacingAndGlyphs">1.383,67</text>
<rect x="2093.7" y="522.7" width="119.6" height="40.6" rx="9" fill="#1f2430" stroke="#e6e8eb" stroke-width="1.6"/>
<text x="2107.04" y="554.40" font-size="24.86" font-weight="normal" fill="#eaecef"  textLength="94.72" lengthAdjust="spacingAndGlyphs">1.544,53</text>
</svg></body></html>
